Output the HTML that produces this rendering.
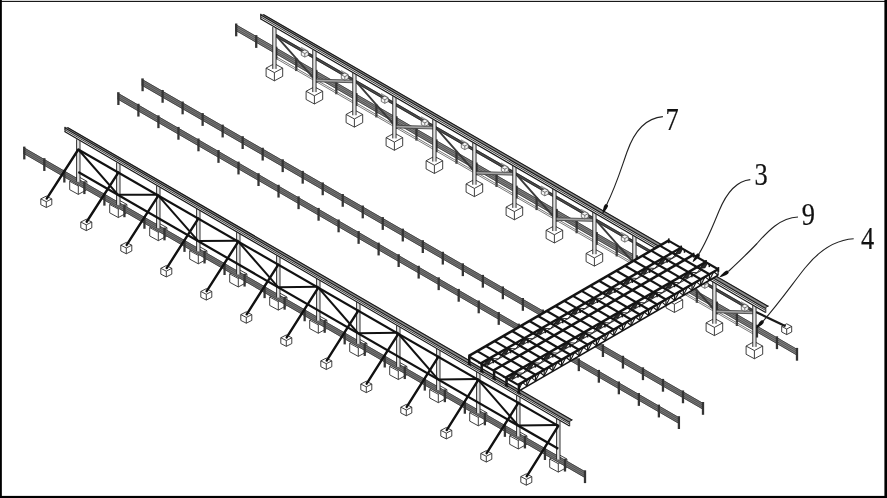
<!DOCTYPE html>
<html lang="en">
<head>
<meta charset="utf-8">
<title>Figure</title>
<style>
html,body{margin:0;padding:0;background:#fff;}
body{width:887px;height:498px;overflow:hidden;position:relative;font-family:"Liberation Serif",serif;}
#frame{position:absolute;left:0;top:0;filter:none;}
svg{position:absolute;left:0;top:0;}
#draw{filter:blur(0.4px);}
text{font-family:"Liberation Serif",serif;fill:#111;}
</style>
</head>
<body>
<svg id="draw" width="887" height="498" viewBox="0 0 887 498">
<polygon points="235.2,23.92 797,348.9 797,355.5 235.2,30.52" fill="#868686" stroke="none" stroke-width="1" stroke-linejoin="miter"/>
<line x1="235.2" y1="24.32" x2="797" y2="349.3" stroke="#3c3c3c" stroke-width="0.9"/>
<line x1="235.2" y1="26.22" x2="797" y2="351.2" stroke="#4a4a4a" stroke-width="0.8"/>
<line x1="235.2" y1="28.22" x2="797" y2="353.2" stroke="#4a4a4a" stroke-width="0.8"/>
<line x1="235.2" y1="30.12" x2="797" y2="355.1" stroke="#3c3c3c" stroke-width="0.9"/>
<line x1="236.2" y1="23.5" x2="236.2" y2="36.3" stroke="#343434" stroke-width="2.3"/>
<line x1="256.23" y1="35.09" x2="256.23" y2="47.89" stroke="#343434" stroke-width="2.3"/>
<line x1="276.26" y1="46.67" x2="276.26" y2="59.47" stroke="#343434" stroke-width="2.3"/>
<line x1="296.29" y1="58.26" x2="296.29" y2="71.06" stroke="#343434" stroke-width="2.3"/>
<line x1="316.31" y1="69.84" x2="316.31" y2="82.64" stroke="#343434" stroke-width="2.3"/>
<line x1="336.34" y1="81.43" x2="336.34" y2="94.23" stroke="#343434" stroke-width="2.3"/>
<line x1="356.37" y1="93.01" x2="356.37" y2="105.81" stroke="#343434" stroke-width="2.3"/>
<line x1="376.4" y1="104.6" x2="376.4" y2="117.4" stroke="#343434" stroke-width="2.3"/>
<line x1="396.43" y1="116.19" x2="396.43" y2="128.99" stroke="#343434" stroke-width="2.3"/>
<line x1="416.46" y1="127.77" x2="416.46" y2="140.57" stroke="#343434" stroke-width="2.3"/>
<line x1="436.49" y1="139.36" x2="436.49" y2="152.16" stroke="#343434" stroke-width="2.3"/>
<line x1="456.51" y1="150.94" x2="456.51" y2="163.74" stroke="#343434" stroke-width="2.3"/>
<line x1="476.54" y1="162.53" x2="476.54" y2="175.33" stroke="#343434" stroke-width="2.3"/>
<line x1="496.57" y1="174.11" x2="496.57" y2="186.91" stroke="#343434" stroke-width="2.3"/>
<line x1="516.6" y1="185.7" x2="516.6" y2="198.5" stroke="#343434" stroke-width="2.3"/>
<line x1="536.63" y1="197.29" x2="536.63" y2="210.09" stroke="#343434" stroke-width="2.3"/>
<line x1="556.66" y1="208.87" x2="556.66" y2="221.67" stroke="#343434" stroke-width="2.3"/>
<line x1="576.69" y1="220.46" x2="576.69" y2="233.26" stroke="#343434" stroke-width="2.3"/>
<line x1="596.71" y1="232.04" x2="596.71" y2="244.84" stroke="#343434" stroke-width="2.3"/>
<line x1="616.74" y1="243.63" x2="616.74" y2="256.43" stroke="#343434" stroke-width="2.3"/>
<line x1="636.77" y1="255.21" x2="636.77" y2="268.01" stroke="#343434" stroke-width="2.3"/>
<line x1="656.8" y1="266.8" x2="656.8" y2="279.6" stroke="#343434" stroke-width="2.3"/>
<line x1="676.83" y1="278.39" x2="676.83" y2="291.19" stroke="#343434" stroke-width="2.3"/>
<line x1="696.86" y1="289.97" x2="696.86" y2="302.77" stroke="#343434" stroke-width="2.3"/>
<line x1="716.89" y1="301.56" x2="716.89" y2="314.36" stroke="#343434" stroke-width="2.3"/>
<line x1="736.91" y1="313.14" x2="736.91" y2="325.94" stroke="#343434" stroke-width="2.3"/>
<line x1="756.94" y1="324.73" x2="756.94" y2="337.53" stroke="#343434" stroke-width="2.3"/>
<line x1="776.97" y1="336.31" x2="776.97" y2="349.11" stroke="#343434" stroke-width="2.3"/>
<line x1="797" y1="347.9" x2="797" y2="360.7" stroke="#343434" stroke-width="2.3"/>
<line x1="275.6" y1="35.22" x2="315.6" y2="58.31" stroke="#4c4c4c" stroke-width="2.8"/>
<line x1="275.6" y1="34.02" x2="315.6" y2="57.11" stroke="#222" stroke-width="0.8"/>
<line x1="275.6" y1="36.42" x2="315.6" y2="59.51" stroke="#222" stroke-width="0.8"/>
<line x1="275.6" y1="56.42" x2="315.6" y2="79.51" stroke="#555" stroke-width="0.8"/>
<line x1="275.6" y1="58.22" x2="315.6" y2="81.31" stroke="#555" stroke-width="0.8"/>
<line x1="275.6" y1="35.02" x2="315.6" y2="80.41" stroke="#3a3a3a" stroke-width="1.9"/>
<line x1="300.8" y1="47.49" x2="307.8" y2="51.49" stroke="#999" stroke-width="1.6"/>
<polygon points="301.3,51.69 304.8,49.89 308.3,51.69 308.3,55.29 304.8,57.09 301.3,55.29" fill="#f4f4f4" stroke="#444" stroke-width="0.7" stroke-linejoin="round"/>
<line x1="301.3" y1="51.69" x2="304.8" y2="53.49" stroke="#444" stroke-width="0.7"/>
<line x1="308.3" y1="51.69" x2="304.8" y2="53.49" stroke="#444" stroke-width="0.7"/>
<line x1="304.8" y1="53.49" x2="304.8" y2="57.09" stroke="#444" stroke-width="0.7"/>
<line x1="315.6" y1="58.31" x2="355.6" y2="81.41" stroke="#4c4c4c" stroke-width="2.8"/>
<line x1="315.6" y1="57.11" x2="355.6" y2="80.21" stroke="#222" stroke-width="0.8"/>
<line x1="315.6" y1="59.51" x2="355.6" y2="82.61" stroke="#222" stroke-width="0.8"/>
<line x1="315.6" y1="79.51" x2="355.6" y2="102.61" stroke="#555" stroke-width="0.8"/>
<line x1="315.6" y1="81.31" x2="355.6" y2="104.41" stroke="#555" stroke-width="0.8"/>
<line x1="315.6" y1="80.41" x2="355.6" y2="81.51" stroke="#a4a4a4" stroke-width="2.8"/>
<line x1="315.6" y1="79.11" x2="355.6" y2="80.21" stroke="#3a3a3a" stroke-width="0.8"/>
<line x1="315.6" y1="81.71" x2="355.6" y2="82.81" stroke="#3a3a3a" stroke-width="0.8"/>
<line x1="340.8" y1="70.62" x2="347.8" y2="74.62" stroke="#999" stroke-width="1.6"/>
<polygon points="341.3,74.82 344.8,73.02 348.3,74.82 348.3,78.42 344.8,80.22 341.3,78.42" fill="#f4f4f4" stroke="#444" stroke-width="0.7" stroke-linejoin="round"/>
<line x1="341.3" y1="74.82" x2="344.8" y2="76.62" stroke="#444" stroke-width="0.7"/>
<line x1="348.3" y1="74.82" x2="344.8" y2="76.62" stroke="#444" stroke-width="0.7"/>
<line x1="344.8" y1="76.62" x2="344.8" y2="80.22" stroke="#444" stroke-width="0.7"/>
<line x1="355.6" y1="81.41" x2="395.6" y2="104.51" stroke="#4c4c4c" stroke-width="2.8"/>
<line x1="355.6" y1="80.21" x2="395.6" y2="103.31" stroke="#222" stroke-width="0.8"/>
<line x1="355.6" y1="82.61" x2="395.6" y2="105.71" stroke="#222" stroke-width="0.8"/>
<line x1="355.6" y1="102.61" x2="395.6" y2="125.71" stroke="#555" stroke-width="0.8"/>
<line x1="355.6" y1="104.41" x2="395.6" y2="127.51" stroke="#555" stroke-width="0.8"/>
<line x1="355.6" y1="81.21" x2="395.6" y2="126.61" stroke="#3a3a3a" stroke-width="1.9"/>
<line x1="380.8" y1="93.74" x2="387.8" y2="97.74" stroke="#999" stroke-width="1.6"/>
<polygon points="381.3,97.94 384.8,96.14 388.3,97.94 388.3,101.54 384.8,103.34 381.3,101.54" fill="#f4f4f4" stroke="#444" stroke-width="0.7" stroke-linejoin="round"/>
<line x1="381.3" y1="97.94" x2="384.8" y2="99.74" stroke="#444" stroke-width="0.7"/>
<line x1="388.3" y1="97.94" x2="384.8" y2="99.74" stroke="#444" stroke-width="0.7"/>
<line x1="384.8" y1="99.74" x2="384.8" y2="103.34" stroke="#444" stroke-width="0.7"/>
<line x1="395.6" y1="104.51" x2="435.6" y2="127.61" stroke="#4c4c4c" stroke-width="2.8"/>
<line x1="395.6" y1="103.31" x2="435.6" y2="126.41" stroke="#222" stroke-width="0.8"/>
<line x1="395.6" y1="105.71" x2="435.6" y2="128.81" stroke="#222" stroke-width="0.8"/>
<line x1="395.6" y1="125.71" x2="435.6" y2="148.81" stroke="#555" stroke-width="0.8"/>
<line x1="395.6" y1="127.51" x2="435.6" y2="150.61" stroke="#555" stroke-width="0.8"/>
<line x1="395.6" y1="126.61" x2="435.6" y2="127.71" stroke="#a4a4a4" stroke-width="2.8"/>
<line x1="395.6" y1="125.31" x2="435.6" y2="126.41" stroke="#3a3a3a" stroke-width="0.8"/>
<line x1="395.6" y1="127.91" x2="435.6" y2="129.01" stroke="#3a3a3a" stroke-width="0.8"/>
<line x1="420.8" y1="116.86" x2="427.8" y2="120.86" stroke="#999" stroke-width="1.6"/>
<polygon points="421.3,121.06 424.8,119.26 428.3,121.06 428.3,124.66 424.8,126.46 421.3,124.66" fill="#f4f4f4" stroke="#444" stroke-width="0.7" stroke-linejoin="round"/>
<line x1="421.3" y1="121.06" x2="424.8" y2="122.86" stroke="#444" stroke-width="0.7"/>
<line x1="428.3" y1="121.06" x2="424.8" y2="122.86" stroke="#444" stroke-width="0.7"/>
<line x1="424.8" y1="122.86" x2="424.8" y2="126.46" stroke="#444" stroke-width="0.7"/>
<line x1="435.6" y1="127.61" x2="475.6" y2="150.71" stroke="#4c4c4c" stroke-width="2.8"/>
<line x1="435.6" y1="126.41" x2="475.6" y2="149.51" stroke="#222" stroke-width="0.8"/>
<line x1="435.6" y1="128.81" x2="475.6" y2="151.91" stroke="#222" stroke-width="0.8"/>
<line x1="435.6" y1="148.81" x2="475.6" y2="171.91" stroke="#555" stroke-width="0.8"/>
<line x1="435.6" y1="150.61" x2="475.6" y2="173.71" stroke="#555" stroke-width="0.8"/>
<line x1="435.6" y1="127.41" x2="475.6" y2="172.81" stroke="#3a3a3a" stroke-width="1.9"/>
<line x1="460.8" y1="139.99" x2="467.8" y2="143.99" stroke="#999" stroke-width="1.6"/>
<polygon points="461.3,144.19 464.8,142.39 468.3,144.19 468.3,147.79 464.8,149.59 461.3,147.79" fill="#f4f4f4" stroke="#444" stroke-width="0.7" stroke-linejoin="round"/>
<line x1="461.3" y1="144.19" x2="464.8" y2="145.99" stroke="#444" stroke-width="0.7"/>
<line x1="468.3" y1="144.19" x2="464.8" y2="145.99" stroke="#444" stroke-width="0.7"/>
<line x1="464.8" y1="145.99" x2="464.8" y2="149.59" stroke="#444" stroke-width="0.7"/>
<line x1="475.6" y1="150.71" x2="515.6" y2="173.8" stroke="#4c4c4c" stroke-width="2.8"/>
<line x1="475.6" y1="149.51" x2="515.6" y2="172.6" stroke="#222" stroke-width="0.8"/>
<line x1="475.6" y1="151.91" x2="515.6" y2="175" stroke="#222" stroke-width="0.8"/>
<line x1="475.6" y1="171.91" x2="515.6" y2="195" stroke="#555" stroke-width="0.8"/>
<line x1="475.6" y1="173.71" x2="515.6" y2="196.8" stroke="#555" stroke-width="0.8"/>
<line x1="475.6" y1="172.81" x2="515.6" y2="173.9" stroke="#a4a4a4" stroke-width="2.8"/>
<line x1="475.6" y1="171.51" x2="515.6" y2="172.6" stroke="#3a3a3a" stroke-width="0.8"/>
<line x1="475.6" y1="174.11" x2="515.6" y2="175.2" stroke="#3a3a3a" stroke-width="0.8"/>
<line x1="500.8" y1="163.11" x2="507.8" y2="167.11" stroke="#999" stroke-width="1.6"/>
<polygon points="501.3,167.31 504.8,165.51 508.3,167.31 508.3,170.91 504.8,172.71 501.3,170.91" fill="#f4f4f4" stroke="#444" stroke-width="0.7" stroke-linejoin="round"/>
<line x1="501.3" y1="167.31" x2="504.8" y2="169.11" stroke="#444" stroke-width="0.7"/>
<line x1="508.3" y1="167.31" x2="504.8" y2="169.11" stroke="#444" stroke-width="0.7"/>
<line x1="504.8" y1="169.11" x2="504.8" y2="172.71" stroke="#444" stroke-width="0.7"/>
<line x1="515.6" y1="173.8" x2="555.6" y2="196.9" stroke="#4c4c4c" stroke-width="2.8"/>
<line x1="515.6" y1="172.6" x2="555.6" y2="195.7" stroke="#222" stroke-width="0.8"/>
<line x1="515.6" y1="175" x2="555.6" y2="198.1" stroke="#222" stroke-width="0.8"/>
<line x1="515.6" y1="195" x2="555.6" y2="218.1" stroke="#555" stroke-width="0.8"/>
<line x1="515.6" y1="196.8" x2="555.6" y2="219.9" stroke="#555" stroke-width="0.8"/>
<line x1="515.6" y1="173.6" x2="555.6" y2="219" stroke="#3a3a3a" stroke-width="1.9"/>
<line x1="540.8" y1="186.24" x2="547.8" y2="190.24" stroke="#999" stroke-width="1.6"/>
<polygon points="541.3,190.44 544.8,188.64 548.3,190.44 548.3,194.04 544.8,195.84 541.3,194.04" fill="#f4f4f4" stroke="#444" stroke-width="0.7" stroke-linejoin="round"/>
<line x1="541.3" y1="190.44" x2="544.8" y2="192.24" stroke="#444" stroke-width="0.7"/>
<line x1="548.3" y1="190.44" x2="544.8" y2="192.24" stroke="#444" stroke-width="0.7"/>
<line x1="544.8" y1="192.24" x2="544.8" y2="195.84" stroke="#444" stroke-width="0.7"/>
<line x1="555.6" y1="196.9" x2="595.6" y2="220" stroke="#4c4c4c" stroke-width="2.8"/>
<line x1="555.6" y1="195.7" x2="595.6" y2="218.8" stroke="#222" stroke-width="0.8"/>
<line x1="555.6" y1="198.1" x2="595.6" y2="221.2" stroke="#222" stroke-width="0.8"/>
<line x1="555.6" y1="218.1" x2="595.6" y2="241.2" stroke="#555" stroke-width="0.8"/>
<line x1="555.6" y1="219.9" x2="595.6" y2="243" stroke="#555" stroke-width="0.8"/>
<line x1="555.6" y1="219" x2="595.6" y2="220.1" stroke="#a4a4a4" stroke-width="2.8"/>
<line x1="555.6" y1="217.7" x2="595.6" y2="218.8" stroke="#3a3a3a" stroke-width="0.8"/>
<line x1="555.6" y1="220.3" x2="595.6" y2="221.4" stroke="#3a3a3a" stroke-width="0.8"/>
<line x1="580.8" y1="209.36" x2="587.8" y2="213.36" stroke="#999" stroke-width="1.6"/>
<polygon points="581.3,213.56 584.8,211.76 588.3,213.56 588.3,217.16 584.8,218.96 581.3,217.16" fill="#f4f4f4" stroke="#444" stroke-width="0.7" stroke-linejoin="round"/>
<line x1="581.3" y1="213.56" x2="584.8" y2="215.36" stroke="#444" stroke-width="0.7"/>
<line x1="588.3" y1="213.56" x2="584.8" y2="215.36" stroke="#444" stroke-width="0.7"/>
<line x1="584.8" y1="215.36" x2="584.8" y2="218.96" stroke="#444" stroke-width="0.7"/>
<line x1="595.6" y1="220" x2="635.6" y2="243.1" stroke="#4c4c4c" stroke-width="2.8"/>
<line x1="595.6" y1="218.8" x2="635.6" y2="241.9" stroke="#222" stroke-width="0.8"/>
<line x1="595.6" y1="221.2" x2="635.6" y2="244.3" stroke="#222" stroke-width="0.8"/>
<line x1="595.6" y1="241.2" x2="635.6" y2="264.3" stroke="#555" stroke-width="0.8"/>
<line x1="595.6" y1="243" x2="635.6" y2="266.1" stroke="#555" stroke-width="0.8"/>
<line x1="595.6" y1="219.8" x2="635.6" y2="265.2" stroke="#3a3a3a" stroke-width="1.9"/>
<line x1="620.8" y1="232.48" x2="627.8" y2="236.48" stroke="#999" stroke-width="1.6"/>
<polygon points="621.3,236.68 624.8,234.88 628.3,236.68 628.3,240.28 624.8,242.08 621.3,240.28" fill="#f4f4f4" stroke="#444" stroke-width="0.7" stroke-linejoin="round"/>
<line x1="621.3" y1="236.68" x2="624.8" y2="238.48" stroke="#444" stroke-width="0.7"/>
<line x1="628.3" y1="236.68" x2="624.8" y2="238.48" stroke="#444" stroke-width="0.7"/>
<line x1="624.8" y1="238.48" x2="624.8" y2="242.08" stroke="#444" stroke-width="0.7"/>
<line x1="635.6" y1="243.1" x2="675.6" y2="266.2" stroke="#4c4c4c" stroke-width="2.8"/>
<line x1="635.6" y1="241.9" x2="675.6" y2="265" stroke="#222" stroke-width="0.8"/>
<line x1="635.6" y1="244.3" x2="675.6" y2="267.4" stroke="#222" stroke-width="0.8"/>
<line x1="635.6" y1="264.3" x2="675.6" y2="287.4" stroke="#555" stroke-width="0.8"/>
<line x1="635.6" y1="266.1" x2="675.6" y2="289.2" stroke="#555" stroke-width="0.8"/>
<line x1="635.6" y1="265.2" x2="675.6" y2="266.3" stroke="#a4a4a4" stroke-width="2.8"/>
<line x1="635.6" y1="263.9" x2="675.6" y2="265" stroke="#3a3a3a" stroke-width="0.8"/>
<line x1="635.6" y1="266.5" x2="675.6" y2="267.6" stroke="#3a3a3a" stroke-width="0.8"/>
<line x1="660.8" y1="255.61" x2="667.8" y2="259.61" stroke="#999" stroke-width="1.6"/>
<polygon points="661.3,259.81 664.8,258.01 668.3,259.81 668.3,263.41 664.8,265.21 661.3,263.41" fill="#f4f4f4" stroke="#444" stroke-width="0.7" stroke-linejoin="round"/>
<line x1="661.3" y1="259.81" x2="664.8" y2="261.61" stroke="#444" stroke-width="0.7"/>
<line x1="668.3" y1="259.81" x2="664.8" y2="261.61" stroke="#444" stroke-width="0.7"/>
<line x1="664.8" y1="261.61" x2="664.8" y2="265.21" stroke="#444" stroke-width="0.7"/>
<line x1="675.6" y1="266.2" x2="715.6" y2="289.3" stroke="#4c4c4c" stroke-width="2.8"/>
<line x1="675.6" y1="265" x2="715.6" y2="288.1" stroke="#222" stroke-width="0.8"/>
<line x1="675.6" y1="267.4" x2="715.6" y2="290.5" stroke="#222" stroke-width="0.8"/>
<line x1="675.6" y1="287.4" x2="715.6" y2="310.5" stroke="#555" stroke-width="0.8"/>
<line x1="675.6" y1="289.2" x2="715.6" y2="312.3" stroke="#555" stroke-width="0.8"/>
<line x1="675.6" y1="266" x2="715.6" y2="311.4" stroke="#3a3a3a" stroke-width="1.9"/>
<line x1="700.8" y1="278.73" x2="707.8" y2="282.73" stroke="#999" stroke-width="1.6"/>
<polygon points="701.3,282.93 704.8,281.13 708.3,282.93 708.3,286.53 704.8,288.33 701.3,286.53" fill="#f4f4f4" stroke="#444" stroke-width="0.7" stroke-linejoin="round"/>
<line x1="701.3" y1="282.93" x2="704.8" y2="284.73" stroke="#444" stroke-width="0.7"/>
<line x1="708.3" y1="282.93" x2="704.8" y2="284.73" stroke="#444" stroke-width="0.7"/>
<line x1="704.8" y1="284.73" x2="704.8" y2="288.33" stroke="#444" stroke-width="0.7"/>
<line x1="715.6" y1="289.3" x2="755.6" y2="312.39" stroke="#4c4c4c" stroke-width="2.8"/>
<line x1="715.6" y1="288.1" x2="755.6" y2="311.19" stroke="#222" stroke-width="0.8"/>
<line x1="715.6" y1="290.5" x2="755.6" y2="313.59" stroke="#222" stroke-width="0.8"/>
<line x1="715.6" y1="310.5" x2="755.6" y2="333.59" stroke="#555" stroke-width="0.8"/>
<line x1="715.6" y1="312.3" x2="755.6" y2="335.39" stroke="#555" stroke-width="0.8"/>
<line x1="715.6" y1="311.4" x2="755.6" y2="312.49" stroke="#a4a4a4" stroke-width="2.8"/>
<line x1="715.6" y1="310.1" x2="755.6" y2="311.19" stroke="#3a3a3a" stroke-width="0.8"/>
<line x1="715.6" y1="312.7" x2="755.6" y2="313.79" stroke="#3a3a3a" stroke-width="0.8"/>
<line x1="740.8" y1="301.86" x2="747.8" y2="305.86" stroke="#999" stroke-width="1.6"/>
<polygon points="741.3,306.06 744.8,304.26 748.3,306.06 748.3,309.66 744.8,311.46 741.3,309.66" fill="#f4f4f4" stroke="#444" stroke-width="0.7" stroke-linejoin="round"/>
<line x1="741.3" y1="306.06" x2="744.8" y2="307.86" stroke="#444" stroke-width="0.7"/>
<line x1="748.3" y1="306.06" x2="744.8" y2="307.86" stroke="#444" stroke-width="0.7"/>
<line x1="744.8" y1="307.86" x2="744.8" y2="311.46" stroke="#444" stroke-width="0.7"/>
<polygon points="781.7,326.4 786.7,323.8 791.7,326.4 791.7,332 786.7,334.6 781.7,332" fill="#fff" stroke="#2a2a2a" stroke-width="0.9" stroke-linejoin="round"/>
<line x1="781.7" y1="326.4" x2="786.7" y2="329" stroke="#2a2a2a" stroke-width="0.9"/>
<line x1="791.7" y1="326.4" x2="786.7" y2="329" stroke="#2a2a2a" stroke-width="0.9"/>
<line x1="786.7" y1="329" x2="786.7" y2="334.6" stroke="#2a2a2a" stroke-width="0.9"/>
<line x1="756" y1="312" x2="785.6" y2="326.2" stroke="#1a1a1a" stroke-width="2.2"/>
<polygon points="266.1,68.12 274.4,63.62 282.7,68.12 282.7,76.32 274.4,80.82 266.1,76.32" fill="#fff" stroke="#2a2a2a" stroke-width="0.9" stroke-linejoin="round"/>
<line x1="266.1" y1="68.12" x2="274.4" y2="72.62" stroke="#2a2a2a" stroke-width="0.9"/>
<line x1="282.7" y1="68.12" x2="274.4" y2="72.62" stroke="#2a2a2a" stroke-width="0.9"/>
<line x1="274.4" y1="72.62" x2="274.4" y2="80.82" stroke="#2a2a2a" stroke-width="0.9"/>
<polygon points="272.75,26.82 276.05,26.82 276.05,68.92 272.75,68.92" fill="#e2e2e2" stroke="none" stroke-width="1" stroke-linejoin="miter"/>
<line x1="272.75" y1="26.82" x2="272.75" y2="68.92" stroke="#1c1c1c" stroke-width="0.9"/>
<line x1="276.05" y1="26.82" x2="276.05" y2="68.92" stroke="#1c1c1c" stroke-width="0.9"/>
<polygon points="306.1,91.28 314.4,86.78 322.7,91.28 322.7,99.48 314.4,103.98 306.1,99.48" fill="#fff" stroke="#2a2a2a" stroke-width="0.9" stroke-linejoin="round"/>
<line x1="306.1" y1="91.28" x2="314.4" y2="95.78" stroke="#2a2a2a" stroke-width="0.9"/>
<line x1="322.7" y1="91.28" x2="314.4" y2="95.78" stroke="#2a2a2a" stroke-width="0.9"/>
<line x1="314.4" y1="95.78" x2="314.4" y2="103.98" stroke="#2a2a2a" stroke-width="0.9"/>
<polygon points="312.75,49.94 316.05,49.94 316.05,92.08 312.75,92.08" fill="#e2e2e2" stroke="none" stroke-width="1" stroke-linejoin="miter"/>
<line x1="312.75" y1="49.94" x2="312.75" y2="92.08" stroke="#1c1c1c" stroke-width="0.9"/>
<line x1="316.05" y1="49.94" x2="316.05" y2="92.08" stroke="#1c1c1c" stroke-width="0.9"/>
<polygon points="346.1,114.44 354.4,109.94 362.7,114.44 362.7,122.64 354.4,127.14 346.1,122.64" fill="#fff" stroke="#2a2a2a" stroke-width="0.9" stroke-linejoin="round"/>
<line x1="346.1" y1="114.44" x2="354.4" y2="118.94" stroke="#2a2a2a" stroke-width="0.9"/>
<line x1="362.7" y1="114.44" x2="354.4" y2="118.94" stroke="#2a2a2a" stroke-width="0.9"/>
<line x1="354.4" y1="118.94" x2="354.4" y2="127.14" stroke="#2a2a2a" stroke-width="0.9"/>
<polygon points="352.75,73.07 356.05,73.07 356.05,115.24 352.75,115.24" fill="#e2e2e2" stroke="none" stroke-width="1" stroke-linejoin="miter"/>
<line x1="352.75" y1="73.07" x2="352.75" y2="115.24" stroke="#1c1c1c" stroke-width="0.9"/>
<line x1="356.05" y1="73.07" x2="356.05" y2="115.24" stroke="#1c1c1c" stroke-width="0.9"/>
<polygon points="386.1,137.6 394.4,133.1 402.7,137.6 402.7,145.8 394.4,150.3 386.1,145.8" fill="#fff" stroke="#2a2a2a" stroke-width="0.9" stroke-linejoin="round"/>
<line x1="386.1" y1="137.6" x2="394.4" y2="142.1" stroke="#2a2a2a" stroke-width="0.9"/>
<line x1="402.7" y1="137.6" x2="394.4" y2="142.1" stroke="#2a2a2a" stroke-width="0.9"/>
<line x1="394.4" y1="142.1" x2="394.4" y2="150.3" stroke="#2a2a2a" stroke-width="0.9"/>
<polygon points="392.75,96.19 396.05,96.19 396.05,138.4 392.75,138.4" fill="#e2e2e2" stroke="none" stroke-width="1" stroke-linejoin="miter"/>
<line x1="392.75" y1="96.19" x2="392.75" y2="138.4" stroke="#1c1c1c" stroke-width="0.9"/>
<line x1="396.05" y1="96.19" x2="396.05" y2="138.4" stroke="#1c1c1c" stroke-width="0.9"/>
<polygon points="426.1,160.76 434.4,156.26 442.7,160.76 442.7,168.96 434.4,173.46 426.1,168.96" fill="#fff" stroke="#2a2a2a" stroke-width="0.9" stroke-linejoin="round"/>
<line x1="426.1" y1="160.76" x2="434.4" y2="165.26" stroke="#2a2a2a" stroke-width="0.9"/>
<line x1="442.7" y1="160.76" x2="434.4" y2="165.26" stroke="#2a2a2a" stroke-width="0.9"/>
<line x1="434.4" y1="165.26" x2="434.4" y2="173.46" stroke="#2a2a2a" stroke-width="0.9"/>
<polygon points="432.75,119.31 436.05,119.31 436.05,161.56 432.75,161.56" fill="#e2e2e2" stroke="none" stroke-width="1" stroke-linejoin="miter"/>
<line x1="432.75" y1="119.31" x2="432.75" y2="161.56" stroke="#1c1c1c" stroke-width="0.9"/>
<line x1="436.05" y1="119.31" x2="436.05" y2="161.56" stroke="#1c1c1c" stroke-width="0.9"/>
<polygon points="466.1,183.93 474.4,179.43 482.7,183.93 482.7,192.13 474.4,196.63 466.1,192.13" fill="#fff" stroke="#2a2a2a" stroke-width="0.9" stroke-linejoin="round"/>
<line x1="466.1" y1="183.93" x2="474.4" y2="188.43" stroke="#2a2a2a" stroke-width="0.9"/>
<line x1="482.7" y1="183.93" x2="474.4" y2="188.43" stroke="#2a2a2a" stroke-width="0.9"/>
<line x1="474.4" y1="188.43" x2="474.4" y2="196.63" stroke="#2a2a2a" stroke-width="0.9"/>
<polygon points="472.75,142.44 476.05,142.44 476.05,184.73 472.75,184.73" fill="#e2e2e2" stroke="none" stroke-width="1" stroke-linejoin="miter"/>
<line x1="472.75" y1="142.44" x2="472.75" y2="184.73" stroke="#1c1c1c" stroke-width="0.9"/>
<line x1="476.05" y1="142.44" x2="476.05" y2="184.73" stroke="#1c1c1c" stroke-width="0.9"/>
<polygon points="506.1,207.09 514.4,202.59 522.7,207.09 522.7,215.29 514.4,219.79 506.1,215.29" fill="#fff" stroke="#2a2a2a" stroke-width="0.9" stroke-linejoin="round"/>
<line x1="506.1" y1="207.09" x2="514.4" y2="211.59" stroke="#2a2a2a" stroke-width="0.9"/>
<line x1="522.7" y1="207.09" x2="514.4" y2="211.59" stroke="#2a2a2a" stroke-width="0.9"/>
<line x1="514.4" y1="211.59" x2="514.4" y2="219.79" stroke="#2a2a2a" stroke-width="0.9"/>
<polygon points="512.75,165.56 516.05,165.56 516.05,207.89 512.75,207.89" fill="#e2e2e2" stroke="none" stroke-width="1" stroke-linejoin="miter"/>
<line x1="512.75" y1="165.56" x2="512.75" y2="207.89" stroke="#1c1c1c" stroke-width="0.9"/>
<line x1="516.05" y1="165.56" x2="516.05" y2="207.89" stroke="#1c1c1c" stroke-width="0.9"/>
<polygon points="546.1,230.25 554.4,225.75 562.7,230.25 562.7,238.45 554.4,242.95 546.1,238.45" fill="#fff" stroke="#2a2a2a" stroke-width="0.9" stroke-linejoin="round"/>
<line x1="546.1" y1="230.25" x2="554.4" y2="234.75" stroke="#2a2a2a" stroke-width="0.9"/>
<line x1="562.7" y1="230.25" x2="554.4" y2="234.75" stroke="#2a2a2a" stroke-width="0.9"/>
<line x1="554.4" y1="234.75" x2="554.4" y2="242.95" stroke="#2a2a2a" stroke-width="0.9"/>
<polygon points="552.75,188.69 556.05,188.69 556.05,231.05 552.75,231.05" fill="#e2e2e2" stroke="none" stroke-width="1" stroke-linejoin="miter"/>
<line x1="552.75" y1="188.69" x2="552.75" y2="231.05" stroke="#1c1c1c" stroke-width="0.9"/>
<line x1="556.05" y1="188.69" x2="556.05" y2="231.05" stroke="#1c1c1c" stroke-width="0.9"/>
<polygon points="586.1,253.41 594.4,248.91 602.7,253.41 602.7,261.61 594.4,266.11 586.1,261.61" fill="#fff" stroke="#2a2a2a" stroke-width="0.9" stroke-linejoin="round"/>
<line x1="586.1" y1="253.41" x2="594.4" y2="257.91" stroke="#2a2a2a" stroke-width="0.9"/>
<line x1="602.7" y1="253.41" x2="594.4" y2="257.91" stroke="#2a2a2a" stroke-width="0.9"/>
<line x1="594.4" y1="257.91" x2="594.4" y2="266.11" stroke="#2a2a2a" stroke-width="0.9"/>
<polygon points="592.75,211.81 596.05,211.81 596.05,254.21 592.75,254.21" fill="#e2e2e2" stroke="none" stroke-width="1" stroke-linejoin="miter"/>
<line x1="592.75" y1="211.81" x2="592.75" y2="254.21" stroke="#1c1c1c" stroke-width="0.9"/>
<line x1="596.05" y1="211.81" x2="596.05" y2="254.21" stroke="#1c1c1c" stroke-width="0.9"/>
<polygon points="626.1,276.58 634.4,272.08 642.7,276.58 642.7,284.78 634.4,289.28 626.1,284.78" fill="#fff" stroke="#2a2a2a" stroke-width="0.9" stroke-linejoin="round"/>
<line x1="626.1" y1="276.58" x2="634.4" y2="281.08" stroke="#2a2a2a" stroke-width="0.9"/>
<line x1="642.7" y1="276.58" x2="634.4" y2="281.08" stroke="#2a2a2a" stroke-width="0.9"/>
<line x1="634.4" y1="281.08" x2="634.4" y2="289.28" stroke="#2a2a2a" stroke-width="0.9"/>
<polygon points="632.75,234.93 636.05,234.93 636.05,277.38 632.75,277.38" fill="#e2e2e2" stroke="none" stroke-width="1" stroke-linejoin="miter"/>
<line x1="632.75" y1="234.93" x2="632.75" y2="277.38" stroke="#1c1c1c" stroke-width="0.9"/>
<line x1="636.05" y1="234.93" x2="636.05" y2="277.38" stroke="#1c1c1c" stroke-width="0.9"/>
<polygon points="666.1,299.74 674.4,295.24 682.7,299.74 682.7,307.94 674.4,312.44 666.1,307.94" fill="#fff" stroke="#2a2a2a" stroke-width="0.9" stroke-linejoin="round"/>
<line x1="666.1" y1="299.74" x2="674.4" y2="304.24" stroke="#2a2a2a" stroke-width="0.9"/>
<line x1="682.7" y1="299.74" x2="674.4" y2="304.24" stroke="#2a2a2a" stroke-width="0.9"/>
<line x1="674.4" y1="304.24" x2="674.4" y2="312.44" stroke="#2a2a2a" stroke-width="0.9"/>
<polygon points="672.75,258.06 676.05,258.06 676.05,300.54 672.75,300.54" fill="#e2e2e2" stroke="none" stroke-width="1" stroke-linejoin="miter"/>
<line x1="672.75" y1="258.06" x2="672.75" y2="300.54" stroke="#1c1c1c" stroke-width="0.9"/>
<line x1="676.05" y1="258.06" x2="676.05" y2="300.54" stroke="#1c1c1c" stroke-width="0.9"/>
<polygon points="706.1,322.9 714.4,318.4 722.7,322.9 722.7,331.1 714.4,335.6 706.1,331.1" fill="#fff" stroke="#2a2a2a" stroke-width="0.9" stroke-linejoin="round"/>
<line x1="706.1" y1="322.9" x2="714.4" y2="327.4" stroke="#2a2a2a" stroke-width="0.9"/>
<line x1="722.7" y1="322.9" x2="714.4" y2="327.4" stroke="#2a2a2a" stroke-width="0.9"/>
<line x1="714.4" y1="327.4" x2="714.4" y2="335.6" stroke="#2a2a2a" stroke-width="0.9"/>
<polygon points="712.75,281.18 716.05,281.18 716.05,323.7 712.75,323.7" fill="#e2e2e2" stroke="none" stroke-width="1" stroke-linejoin="miter"/>
<line x1="712.75" y1="281.18" x2="712.75" y2="323.7" stroke="#1c1c1c" stroke-width="0.9"/>
<line x1="716.05" y1="281.18" x2="716.05" y2="323.7" stroke="#1c1c1c" stroke-width="0.9"/>
<polygon points="746.1,346.06 754.4,341.56 762.7,346.06 762.7,354.26 754.4,358.76 746.1,354.26" fill="#fff" stroke="#2a2a2a" stroke-width="0.9" stroke-linejoin="round"/>
<line x1="746.1" y1="346.06" x2="754.4" y2="350.56" stroke="#2a2a2a" stroke-width="0.9"/>
<line x1="762.7" y1="346.06" x2="754.4" y2="350.56" stroke="#2a2a2a" stroke-width="0.9"/>
<line x1="754.4" y1="350.56" x2="754.4" y2="358.76" stroke="#2a2a2a" stroke-width="0.9"/>
<polygon points="752.75,304.31 756.05,304.31 756.05,346.86 752.75,346.86" fill="#e2e2e2" stroke="none" stroke-width="1" stroke-linejoin="miter"/>
<line x1="752.75" y1="304.31" x2="752.75" y2="346.86" stroke="#1c1c1c" stroke-width="0.9"/>
<line x1="756.05" y1="304.31" x2="756.05" y2="346.86" stroke="#1c1c1c" stroke-width="0.9"/>
<polygon points="260.4,13.82 263.3,13.9 768.4,305.9 765.6,307.6 765.6,312.7 260.4,19.22" fill="#fff" stroke="none" stroke-width="1" stroke-linejoin="miter"/>
<polygon points="260.4,13.92 263.3,13.9 768.4,305.9 765.6,307.6 765.6,308.4 260.4,14.72" fill="#8a8a8a" stroke="none" stroke-width="1" stroke-linejoin="miter"/>
<polygon points="260.4,14.72 765.6,308.4 765.6,310.4 260.4,16.72" fill="#d4d4d4" stroke="none" stroke-width="1" stroke-linejoin="miter"/>
<line x1="263.3" y1="14.4" x2="768.4" y2="306.4" stroke="#161616" stroke-width="1.1"/>
<line x1="260.4" y1="14.72" x2="765.6" y2="308.4" stroke="#161616" stroke-width="1.1"/>
<line x1="260.4" y1="16.72" x2="765.6" y2="310.4" stroke="#2a2a2a" stroke-width="0.9"/>
<line x1="260.4" y1="18.72" x2="765.6" y2="312.4" stroke="#161616" stroke-width="1.2"/>
<line x1="260.8" y1="13.72" x2="260.8" y2="19.22" stroke="#161616" stroke-width="1"/>
<line x1="765.8" y1="307.6" x2="765.8" y2="312.7" stroke="#161616" stroke-width="0.9"/>
<line x1="768.4" y1="305.9" x2="765.6" y2="307.6" stroke="#161616" stroke-width="0.9"/>
<polygon points="141.6,78.82 703,403 703,409.6 141.6,85.42" fill="#787878" stroke="none" stroke-width="1" stroke-linejoin="miter"/>
<line x1="141.6" y1="79.22" x2="703" y2="403.4" stroke="#3c3c3c" stroke-width="0.9"/>
<line x1="141.6" y1="81.12" x2="703" y2="405.3" stroke="#4a4a4a" stroke-width="0.8"/>
<line x1="141.6" y1="83.12" x2="703" y2="407.3" stroke="#4a4a4a" stroke-width="0.8"/>
<line x1="141.6" y1="85.02" x2="703" y2="409.2" stroke="#3c3c3c" stroke-width="0.9"/>
<line x1="142.6" y1="78.4" x2="142.6" y2="91.2" stroke="#343434" stroke-width="2.3"/>
<line x1="162.61" y1="89.96" x2="162.61" y2="102.76" stroke="#343434" stroke-width="2.3"/>
<line x1="182.63" y1="101.51" x2="182.63" y2="114.31" stroke="#343434" stroke-width="2.3"/>
<line x1="202.64" y1="113.07" x2="202.64" y2="125.87" stroke="#343434" stroke-width="2.3"/>
<line x1="222.66" y1="124.63" x2="222.66" y2="137.43" stroke="#343434" stroke-width="2.3"/>
<line x1="242.67" y1="136.19" x2="242.67" y2="148.99" stroke="#343434" stroke-width="2.3"/>
<line x1="262.69" y1="147.74" x2="262.69" y2="160.54" stroke="#343434" stroke-width="2.3"/>
<line x1="282.7" y1="159.3" x2="282.7" y2="172.1" stroke="#343434" stroke-width="2.3"/>
<line x1="302.71" y1="170.86" x2="302.71" y2="183.66" stroke="#343434" stroke-width="2.3"/>
<line x1="322.73" y1="182.41" x2="322.73" y2="195.21" stroke="#343434" stroke-width="2.3"/>
<line x1="342.74" y1="193.97" x2="342.74" y2="206.77" stroke="#343434" stroke-width="2.3"/>
<line x1="362.76" y1="205.53" x2="362.76" y2="218.33" stroke="#343434" stroke-width="2.3"/>
<line x1="382.77" y1="217.09" x2="382.77" y2="229.89" stroke="#343434" stroke-width="2.3"/>
<line x1="402.79" y1="228.64" x2="402.79" y2="241.44" stroke="#343434" stroke-width="2.3"/>
<line x1="422.8" y1="240.2" x2="422.8" y2="253" stroke="#343434" stroke-width="2.3"/>
<line x1="442.81" y1="251.76" x2="442.81" y2="264.56" stroke="#343434" stroke-width="2.3"/>
<line x1="462.83" y1="263.31" x2="462.83" y2="276.11" stroke="#343434" stroke-width="2.3"/>
<line x1="482.84" y1="274.87" x2="482.84" y2="287.67" stroke="#343434" stroke-width="2.3"/>
<line x1="502.86" y1="286.43" x2="502.86" y2="299.23" stroke="#343434" stroke-width="2.3"/>
<line x1="522.87" y1="297.99" x2="522.87" y2="310.79" stroke="#343434" stroke-width="2.3"/>
<line x1="542.89" y1="309.54" x2="542.89" y2="322.34" stroke="#343434" stroke-width="2.3"/>
<line x1="562.9" y1="321.1" x2="562.9" y2="333.9" stroke="#343434" stroke-width="2.3"/>
<line x1="582.91" y1="332.66" x2="582.91" y2="345.46" stroke="#343434" stroke-width="2.3"/>
<line x1="602.93" y1="344.21" x2="602.93" y2="357.01" stroke="#343434" stroke-width="2.3"/>
<line x1="622.94" y1="355.77" x2="622.94" y2="368.57" stroke="#343434" stroke-width="2.3"/>
<line x1="642.96" y1="367.33" x2="642.96" y2="380.13" stroke="#343434" stroke-width="2.3"/>
<line x1="662.97" y1="378.89" x2="662.97" y2="391.69" stroke="#343434" stroke-width="2.3"/>
<line x1="682.99" y1="390.44" x2="682.99" y2="403.24" stroke="#343434" stroke-width="2.3"/>
<line x1="703" y1="402" x2="703" y2="414.8" stroke="#343434" stroke-width="2.3"/>
<polygon points="117.4,92.62 678.9,417.2 678.9,423.8 117.4,99.22" fill="#787878" stroke="none" stroke-width="1" stroke-linejoin="miter"/>
<line x1="117.4" y1="93.02" x2="678.9" y2="417.6" stroke="#3c3c3c" stroke-width="0.9"/>
<line x1="117.4" y1="94.92" x2="678.9" y2="419.5" stroke="#4a4a4a" stroke-width="0.8"/>
<line x1="117.4" y1="96.92" x2="678.9" y2="421.5" stroke="#4a4a4a" stroke-width="0.8"/>
<line x1="117.4" y1="98.82" x2="678.9" y2="423.4" stroke="#3c3c3c" stroke-width="0.9"/>
<line x1="118.4" y1="92.2" x2="118.4" y2="105" stroke="#343434" stroke-width="2.3"/>
<line x1="138.42" y1="103.77" x2="138.42" y2="116.57" stroke="#343434" stroke-width="2.3"/>
<line x1="158.44" y1="115.34" x2="158.44" y2="128.14" stroke="#343434" stroke-width="2.3"/>
<line x1="178.45" y1="126.91" x2="178.45" y2="139.71" stroke="#343434" stroke-width="2.3"/>
<line x1="198.47" y1="138.49" x2="198.47" y2="151.29" stroke="#343434" stroke-width="2.3"/>
<line x1="218.49" y1="150.06" x2="218.49" y2="162.86" stroke="#343434" stroke-width="2.3"/>
<line x1="238.51" y1="161.63" x2="238.51" y2="174.43" stroke="#343434" stroke-width="2.3"/>
<line x1="258.52" y1="173.2" x2="258.52" y2="186" stroke="#343434" stroke-width="2.3"/>
<line x1="278.54" y1="184.77" x2="278.54" y2="197.57" stroke="#343434" stroke-width="2.3"/>
<line x1="298.56" y1="196.34" x2="298.56" y2="209.14" stroke="#343434" stroke-width="2.3"/>
<line x1="318.58" y1="207.91" x2="318.58" y2="220.71" stroke="#343434" stroke-width="2.3"/>
<line x1="338.6" y1="219.49" x2="338.6" y2="232.29" stroke="#343434" stroke-width="2.3"/>
<line x1="358.61" y1="231.06" x2="358.61" y2="243.86" stroke="#343434" stroke-width="2.3"/>
<line x1="378.63" y1="242.63" x2="378.63" y2="255.43" stroke="#343434" stroke-width="2.3"/>
<line x1="398.65" y1="254.2" x2="398.65" y2="267" stroke="#343434" stroke-width="2.3"/>
<line x1="418.67" y1="265.77" x2="418.67" y2="278.57" stroke="#343434" stroke-width="2.3"/>
<line x1="438.69" y1="277.34" x2="438.69" y2="290.14" stroke="#343434" stroke-width="2.3"/>
<line x1="458.7" y1="288.91" x2="458.7" y2="301.71" stroke="#343434" stroke-width="2.3"/>
<line x1="478.72" y1="300.49" x2="478.72" y2="313.29" stroke="#343434" stroke-width="2.3"/>
<line x1="498.74" y1="312.06" x2="498.74" y2="324.86" stroke="#343434" stroke-width="2.3"/>
<line x1="518.76" y1="323.63" x2="518.76" y2="336.43" stroke="#343434" stroke-width="2.3"/>
<line x1="538.77" y1="335.2" x2="538.77" y2="348" stroke="#343434" stroke-width="2.3"/>
<line x1="558.79" y1="346.77" x2="558.79" y2="359.57" stroke="#343434" stroke-width="2.3"/>
<line x1="578.81" y1="358.34" x2="578.81" y2="371.14" stroke="#343434" stroke-width="2.3"/>
<line x1="598.83" y1="369.91" x2="598.83" y2="382.71" stroke="#343434" stroke-width="2.3"/>
<line x1="618.85" y1="381.49" x2="618.85" y2="394.29" stroke="#343434" stroke-width="2.3"/>
<line x1="638.86" y1="393.06" x2="638.86" y2="405.86" stroke="#343434" stroke-width="2.3"/>
<line x1="658.88" y1="404.63" x2="658.88" y2="417.43" stroke="#343434" stroke-width="2.3"/>
<line x1="678.9" y1="416.2" x2="678.9" y2="429" stroke="#343434" stroke-width="2.3"/>
<polygon points="69.7,181.3 78.3,176.6 86.9,181.3 86.9,189.7 78.3,194.4 69.7,189.7" fill="#fff" stroke="#2a2a2a" stroke-width="0.9" stroke-linejoin="round"/>
<line x1="69.7" y1="181.3" x2="78.3" y2="186" stroke="#2a2a2a" stroke-width="0.9"/>
<line x1="86.9" y1="181.3" x2="78.3" y2="186" stroke="#2a2a2a" stroke-width="0.9"/>
<line x1="78.3" y1="186" x2="78.3" y2="194.4" stroke="#2a2a2a" stroke-width="0.9"/>
<polygon points="109.7,204.44 118.3,199.74 126.9,204.44 126.9,212.84 118.3,217.54 109.7,212.84" fill="#fff" stroke="#2a2a2a" stroke-width="0.9" stroke-linejoin="round"/>
<line x1="109.7" y1="204.44" x2="118.3" y2="209.14" stroke="#2a2a2a" stroke-width="0.9"/>
<line x1="126.9" y1="204.44" x2="118.3" y2="209.14" stroke="#2a2a2a" stroke-width="0.9"/>
<line x1="118.3" y1="209.14" x2="118.3" y2="217.54" stroke="#2a2a2a" stroke-width="0.9"/>
<polygon points="149.7,227.58 158.3,222.88 166.9,227.58 166.9,235.98 158.3,240.68 149.7,235.98" fill="#fff" stroke="#2a2a2a" stroke-width="0.9" stroke-linejoin="round"/>
<line x1="149.7" y1="227.58" x2="158.3" y2="232.28" stroke="#2a2a2a" stroke-width="0.9"/>
<line x1="166.9" y1="227.58" x2="158.3" y2="232.28" stroke="#2a2a2a" stroke-width="0.9"/>
<line x1="158.3" y1="232.28" x2="158.3" y2="240.68" stroke="#2a2a2a" stroke-width="0.9"/>
<polygon points="189.7,250.73 198.3,246.03 206.9,250.73 206.9,259.12 198.3,263.82 189.7,259.12" fill="#fff" stroke="#2a2a2a" stroke-width="0.9" stroke-linejoin="round"/>
<line x1="189.7" y1="250.73" x2="198.3" y2="255.43" stroke="#2a2a2a" stroke-width="0.9"/>
<line x1="206.9" y1="250.73" x2="198.3" y2="255.43" stroke="#2a2a2a" stroke-width="0.9"/>
<line x1="198.3" y1="255.43" x2="198.3" y2="263.82" stroke="#2a2a2a" stroke-width="0.9"/>
<polygon points="229.7,273.87 238.3,269.17 246.9,273.87 246.9,282.27 238.3,286.97 229.7,282.27" fill="#fff" stroke="#2a2a2a" stroke-width="0.9" stroke-linejoin="round"/>
<line x1="229.7" y1="273.87" x2="238.3" y2="278.57" stroke="#2a2a2a" stroke-width="0.9"/>
<line x1="246.9" y1="273.87" x2="238.3" y2="278.57" stroke="#2a2a2a" stroke-width="0.9"/>
<line x1="238.3" y1="278.57" x2="238.3" y2="286.97" stroke="#2a2a2a" stroke-width="0.9"/>
<polygon points="269.7,297.01 278.3,292.31 286.9,297.01 286.9,305.41 278.3,310.11 269.7,305.41" fill="#fff" stroke="#2a2a2a" stroke-width="0.9" stroke-linejoin="round"/>
<line x1="269.7" y1="297.01" x2="278.3" y2="301.71" stroke="#2a2a2a" stroke-width="0.9"/>
<line x1="286.9" y1="297.01" x2="278.3" y2="301.71" stroke="#2a2a2a" stroke-width="0.9"/>
<line x1="278.3" y1="301.71" x2="278.3" y2="310.11" stroke="#2a2a2a" stroke-width="0.9"/>
<polygon points="309.7,320.15 318.3,315.45 326.9,320.15 326.9,328.55 318.3,333.25 309.7,328.55" fill="#fff" stroke="#2a2a2a" stroke-width="0.9" stroke-linejoin="round"/>
<line x1="309.7" y1="320.15" x2="318.3" y2="324.85" stroke="#2a2a2a" stroke-width="0.9"/>
<line x1="326.9" y1="320.15" x2="318.3" y2="324.85" stroke="#2a2a2a" stroke-width="0.9"/>
<line x1="318.3" y1="324.85" x2="318.3" y2="333.25" stroke="#2a2a2a" stroke-width="0.9"/>
<polygon points="349.7,343.29 358.3,338.59 366.9,343.29 366.9,351.69 358.3,356.39 349.7,351.69" fill="#fff" stroke="#2a2a2a" stroke-width="0.9" stroke-linejoin="round"/>
<line x1="349.7" y1="343.29" x2="358.3" y2="347.99" stroke="#2a2a2a" stroke-width="0.9"/>
<line x1="366.9" y1="343.29" x2="358.3" y2="347.99" stroke="#2a2a2a" stroke-width="0.9"/>
<line x1="358.3" y1="347.99" x2="358.3" y2="356.39" stroke="#2a2a2a" stroke-width="0.9"/>
<polygon points="389.7,366.43 398.3,361.73 406.9,366.43 406.9,374.83 398.3,379.53 389.7,374.83" fill="#fff" stroke="#2a2a2a" stroke-width="0.9" stroke-linejoin="round"/>
<line x1="389.7" y1="366.43" x2="398.3" y2="371.13" stroke="#2a2a2a" stroke-width="0.9"/>
<line x1="406.9" y1="366.43" x2="398.3" y2="371.13" stroke="#2a2a2a" stroke-width="0.9"/>
<line x1="398.3" y1="371.13" x2="398.3" y2="379.53" stroke="#2a2a2a" stroke-width="0.9"/>
<polygon points="429.7,389.58 438.3,384.88 446.9,389.58 446.9,397.98 438.3,402.68 429.7,397.98" fill="#fff" stroke="#2a2a2a" stroke-width="0.9" stroke-linejoin="round"/>
<line x1="429.7" y1="389.58" x2="438.3" y2="394.28" stroke="#2a2a2a" stroke-width="0.9"/>
<line x1="446.9" y1="389.58" x2="438.3" y2="394.28" stroke="#2a2a2a" stroke-width="0.9"/>
<line x1="438.3" y1="394.28" x2="438.3" y2="402.68" stroke="#2a2a2a" stroke-width="0.9"/>
<polygon points="469.7,412.72 478.3,408.02 486.9,412.72 486.9,421.12 478.3,425.82 469.7,421.12" fill="#fff" stroke="#2a2a2a" stroke-width="0.9" stroke-linejoin="round"/>
<line x1="469.7" y1="412.72" x2="478.3" y2="417.42" stroke="#2a2a2a" stroke-width="0.9"/>
<line x1="486.9" y1="412.72" x2="478.3" y2="417.42" stroke="#2a2a2a" stroke-width="0.9"/>
<line x1="478.3" y1="417.42" x2="478.3" y2="425.82" stroke="#2a2a2a" stroke-width="0.9"/>
<polygon points="509.7,435.86 518.3,431.16 526.9,435.86 526.9,444.26 518.3,448.96 509.7,444.26" fill="#fff" stroke="#2a2a2a" stroke-width="0.9" stroke-linejoin="round"/>
<line x1="509.7" y1="435.86" x2="518.3" y2="440.56" stroke="#2a2a2a" stroke-width="0.9"/>
<line x1="526.9" y1="435.86" x2="518.3" y2="440.56" stroke="#2a2a2a" stroke-width="0.9"/>
<line x1="518.3" y1="440.56" x2="518.3" y2="448.96" stroke="#2a2a2a" stroke-width="0.9"/>
<polygon points="549.7,459 558.3,454.3 566.9,459 566.9,467.4 558.3,472.1 549.7,467.4" fill="#fff" stroke="#2a2a2a" stroke-width="0.9" stroke-linejoin="round"/>
<line x1="549.7" y1="459" x2="558.3" y2="463.7" stroke="#2a2a2a" stroke-width="0.9"/>
<line x1="566.9" y1="459" x2="558.3" y2="463.7" stroke="#2a2a2a" stroke-width="0.9"/>
<line x1="558.3" y1="463.7" x2="558.3" y2="472.1" stroke="#2a2a2a" stroke-width="0.9"/>
<polygon points="23.3,147.02 585,471.3 585,477.9 23.3,153.62" fill="#787878" stroke="none" stroke-width="1" stroke-linejoin="miter"/>
<line x1="23.3" y1="147.42" x2="585" y2="471.7" stroke="#3c3c3c" stroke-width="0.9"/>
<line x1="23.3" y1="149.32" x2="585" y2="473.6" stroke="#4a4a4a" stroke-width="0.8"/>
<line x1="23.3" y1="151.32" x2="585" y2="475.6" stroke="#4a4a4a" stroke-width="0.8"/>
<line x1="23.3" y1="153.22" x2="585" y2="477.5" stroke="#3c3c3c" stroke-width="0.9"/>
<line x1="24.3" y1="146.6" x2="24.3" y2="159.4" stroke="#343434" stroke-width="2.3"/>
<line x1="44.33" y1="158.16" x2="44.33" y2="170.96" stroke="#343434" stroke-width="2.3"/>
<line x1="64.35" y1="169.72" x2="64.35" y2="182.52" stroke="#343434" stroke-width="2.3"/>
<line x1="84.38" y1="181.28" x2="84.38" y2="194.08" stroke="#343434" stroke-width="2.3"/>
<line x1="104.4" y1="192.84" x2="104.4" y2="205.64" stroke="#343434" stroke-width="2.3"/>
<line x1="124.42" y1="204.4" x2="124.42" y2="217.2" stroke="#343434" stroke-width="2.3"/>
<line x1="144.45" y1="215.96" x2="144.45" y2="228.76" stroke="#343434" stroke-width="2.3"/>
<line x1="164.48" y1="227.53" x2="164.48" y2="240.33" stroke="#343434" stroke-width="2.3"/>
<line x1="184.5" y1="239.09" x2="184.5" y2="251.89" stroke="#343434" stroke-width="2.3"/>
<line x1="204.53" y1="250.65" x2="204.53" y2="263.45" stroke="#343434" stroke-width="2.3"/>
<line x1="224.55" y1="262.21" x2="224.55" y2="275.01" stroke="#343434" stroke-width="2.3"/>
<line x1="244.58" y1="273.77" x2="244.58" y2="286.57" stroke="#343434" stroke-width="2.3"/>
<line x1="264.6" y1="285.33" x2="264.6" y2="298.13" stroke="#343434" stroke-width="2.3"/>
<line x1="284.62" y1="296.89" x2="284.62" y2="309.69" stroke="#343434" stroke-width="2.3"/>
<line x1="304.65" y1="308.45" x2="304.65" y2="321.25" stroke="#343434" stroke-width="2.3"/>
<line x1="324.68" y1="320.01" x2="324.68" y2="332.81" stroke="#343434" stroke-width="2.3"/>
<line x1="344.7" y1="331.57" x2="344.7" y2="344.37" stroke="#343434" stroke-width="2.3"/>
<line x1="364.73" y1="343.13" x2="364.73" y2="355.93" stroke="#343434" stroke-width="2.3"/>
<line x1="384.75" y1="354.69" x2="384.75" y2="367.49" stroke="#343434" stroke-width="2.3"/>
<line x1="404.78" y1="366.25" x2="404.78" y2="379.05" stroke="#343434" stroke-width="2.3"/>
<line x1="424.8" y1="377.81" x2="424.8" y2="390.61" stroke="#343434" stroke-width="2.3"/>
<line x1="444.83" y1="389.38" x2="444.83" y2="402.18" stroke="#343434" stroke-width="2.3"/>
<line x1="464.85" y1="400.94" x2="464.85" y2="413.74" stroke="#343434" stroke-width="2.3"/>
<line x1="484.88" y1="412.5" x2="484.88" y2="425.3" stroke="#343434" stroke-width="2.3"/>
<line x1="504.9" y1="424.06" x2="504.9" y2="436.86" stroke="#343434" stroke-width="2.3"/>
<line x1="524.93" y1="435.62" x2="524.93" y2="448.42" stroke="#343434" stroke-width="2.3"/>
<line x1="544.95" y1="447.18" x2="544.95" y2="459.98" stroke="#343434" stroke-width="2.3"/>
<line x1="564.98" y1="458.74" x2="564.98" y2="471.54" stroke="#343434" stroke-width="2.3"/>
<line x1="585" y1="470.3" x2="585" y2="483.1" stroke="#343434" stroke-width="2.3"/>
<polygon points="76.6,139.26 80,139.26 80,181.8 76.6,181.8" fill="#e2e2e2" stroke="none" stroke-width="1" stroke-linejoin="miter"/>
<line x1="76.6" y1="139.26" x2="76.6" y2="181.8" stroke="#1c1c1c" stroke-width="0.9"/>
<line x1="80" y1="139.26" x2="80" y2="181.8" stroke="#1c1c1c" stroke-width="0.9"/>
<polygon points="116.6,162.47 120,162.47 120,204.94 116.6,204.94" fill="#e2e2e2" stroke="none" stroke-width="1" stroke-linejoin="miter"/>
<line x1="116.6" y1="162.47" x2="116.6" y2="204.94" stroke="#1c1c1c" stroke-width="0.9"/>
<line x1="120" y1="162.47" x2="120" y2="204.94" stroke="#1c1c1c" stroke-width="0.9"/>
<polygon points="156.6,185.67 160,185.67 160,228.08 156.6,228.08" fill="#e2e2e2" stroke="none" stroke-width="1" stroke-linejoin="miter"/>
<line x1="156.6" y1="185.67" x2="156.6" y2="228.08" stroke="#1c1c1c" stroke-width="0.9"/>
<line x1="160" y1="185.67" x2="160" y2="228.08" stroke="#1c1c1c" stroke-width="0.9"/>
<polygon points="196.6,208.87 200,208.87 200,251.23 196.6,251.23" fill="#e2e2e2" stroke="none" stroke-width="1" stroke-linejoin="miter"/>
<line x1="196.6" y1="208.87" x2="196.6" y2="251.23" stroke="#1c1c1c" stroke-width="0.9"/>
<line x1="200" y1="208.87" x2="200" y2="251.23" stroke="#1c1c1c" stroke-width="0.9"/>
<polygon points="236.6,232.07 240,232.07 240,274.37 236.6,274.37" fill="#e2e2e2" stroke="none" stroke-width="1" stroke-linejoin="miter"/>
<line x1="236.6" y1="232.07" x2="236.6" y2="274.37" stroke="#1c1c1c" stroke-width="0.9"/>
<line x1="240" y1="232.07" x2="240" y2="274.37" stroke="#1c1c1c" stroke-width="0.9"/>
<polygon points="276.6,255.27 280,255.27 280,297.51 276.6,297.51" fill="#e2e2e2" stroke="none" stroke-width="1" stroke-linejoin="miter"/>
<line x1="276.6" y1="255.27" x2="276.6" y2="297.51" stroke="#1c1c1c" stroke-width="0.9"/>
<line x1="280" y1="255.27" x2="280" y2="297.51" stroke="#1c1c1c" stroke-width="0.9"/>
<polygon points="316.6,278.47 320,278.47 320,320.65 316.6,320.65" fill="#e2e2e2" stroke="none" stroke-width="1" stroke-linejoin="miter"/>
<line x1="316.6" y1="278.47" x2="316.6" y2="320.65" stroke="#1c1c1c" stroke-width="0.9"/>
<line x1="320" y1="278.47" x2="320" y2="320.65" stroke="#1c1c1c" stroke-width="0.9"/>
<polygon points="356.6,301.67 360,301.67 360,343.79 356.6,343.79" fill="#e2e2e2" stroke="none" stroke-width="1" stroke-linejoin="miter"/>
<line x1="356.6" y1="301.67" x2="356.6" y2="343.79" stroke="#1c1c1c" stroke-width="0.9"/>
<line x1="360" y1="301.67" x2="360" y2="343.79" stroke="#1c1c1c" stroke-width="0.9"/>
<polygon points="396.6,324.87 400,324.87 400,366.93 396.6,366.93" fill="#e2e2e2" stroke="none" stroke-width="1" stroke-linejoin="miter"/>
<line x1="396.6" y1="324.87" x2="396.6" y2="366.93" stroke="#1c1c1c" stroke-width="0.9"/>
<line x1="400" y1="324.87" x2="400" y2="366.93" stroke="#1c1c1c" stroke-width="0.9"/>
<polygon points="436.6,348.08 440,348.08 440,390.08 436.6,390.08" fill="#e2e2e2" stroke="none" stroke-width="1" stroke-linejoin="miter"/>
<line x1="436.6" y1="348.08" x2="436.6" y2="390.08" stroke="#1c1c1c" stroke-width="0.9"/>
<line x1="440" y1="348.08" x2="440" y2="390.08" stroke="#1c1c1c" stroke-width="0.9"/>
<polygon points="476.6,371.28 480,371.28 480,413.22 476.6,413.22" fill="#e2e2e2" stroke="none" stroke-width="1" stroke-linejoin="miter"/>
<line x1="476.6" y1="371.28" x2="476.6" y2="413.22" stroke="#1c1c1c" stroke-width="0.9"/>
<line x1="480" y1="371.28" x2="480" y2="413.22" stroke="#1c1c1c" stroke-width="0.9"/>
<polygon points="516.6,394.48 520,394.48 520,436.36 516.6,436.36" fill="#e2e2e2" stroke="none" stroke-width="1" stroke-linejoin="miter"/>
<line x1="516.6" y1="394.48" x2="516.6" y2="436.36" stroke="#1c1c1c" stroke-width="0.9"/>
<line x1="520" y1="394.48" x2="520" y2="436.36" stroke="#1c1c1c" stroke-width="0.9"/>
<polygon points="556.6,417.68 560,417.68 560,459.5 556.6,459.5" fill="#e2e2e2" stroke="none" stroke-width="1" stroke-linejoin="miter"/>
<line x1="556.6" y1="417.68" x2="556.6" y2="459.5" stroke="#1c1c1c" stroke-width="0.9"/>
<line x1="560" y1="417.68" x2="560" y2="459.5" stroke="#1c1c1c" stroke-width="0.9"/>
<polygon points="40.8,198.9 46.3,196.1 51.8,198.9 51.8,204.7 46.3,207.5 40.8,204.7" fill="#fff" stroke="#2a2a2a" stroke-width="0.9" stroke-linejoin="round"/>
<line x1="40.8" y1="198.9" x2="46.3" y2="201.7" stroke="#2a2a2a" stroke-width="0.9"/>
<line x1="51.8" y1="198.9" x2="46.3" y2="201.7" stroke="#2a2a2a" stroke-width="0.9"/>
<line x1="46.3" y1="201.7" x2="46.3" y2="207.5" stroke="#2a2a2a" stroke-width="0.9"/>
<polygon points="80.8,222.04 86.3,219.24 91.8,222.04 91.8,227.84 86.3,230.64 80.8,227.84" fill="#fff" stroke="#2a2a2a" stroke-width="0.9" stroke-linejoin="round"/>
<line x1="80.8" y1="222.04" x2="86.3" y2="224.84" stroke="#2a2a2a" stroke-width="0.9"/>
<line x1="91.8" y1="222.04" x2="86.3" y2="224.84" stroke="#2a2a2a" stroke-width="0.9"/>
<line x1="86.3" y1="224.84" x2="86.3" y2="230.64" stroke="#2a2a2a" stroke-width="0.9"/>
<polygon points="120.8,245.18 126.3,242.38 131.8,245.18 131.8,250.98 126.3,253.78 120.8,250.98" fill="#fff" stroke="#2a2a2a" stroke-width="0.9" stroke-linejoin="round"/>
<line x1="120.8" y1="245.18" x2="126.3" y2="247.98" stroke="#2a2a2a" stroke-width="0.9"/>
<line x1="131.8" y1="245.18" x2="126.3" y2="247.98" stroke="#2a2a2a" stroke-width="0.9"/>
<line x1="126.3" y1="247.98" x2="126.3" y2="253.78" stroke="#2a2a2a" stroke-width="0.9"/>
<polygon points="160.8,268.33 166.3,265.53 171.8,268.33 171.8,274.13 166.3,276.93 160.8,274.13" fill="#fff" stroke="#2a2a2a" stroke-width="0.9" stroke-linejoin="round"/>
<line x1="160.8" y1="268.33" x2="166.3" y2="271.13" stroke="#2a2a2a" stroke-width="0.9"/>
<line x1="171.8" y1="268.33" x2="166.3" y2="271.13" stroke="#2a2a2a" stroke-width="0.9"/>
<line x1="166.3" y1="271.13" x2="166.3" y2="276.93" stroke="#2a2a2a" stroke-width="0.9"/>
<polygon points="200.8,291.47 206.3,288.67 211.8,291.47 211.8,297.27 206.3,300.07 200.8,297.27" fill="#fff" stroke="#2a2a2a" stroke-width="0.9" stroke-linejoin="round"/>
<line x1="200.8" y1="291.47" x2="206.3" y2="294.27" stroke="#2a2a2a" stroke-width="0.9"/>
<line x1="211.8" y1="291.47" x2="206.3" y2="294.27" stroke="#2a2a2a" stroke-width="0.9"/>
<line x1="206.3" y1="294.27" x2="206.3" y2="300.07" stroke="#2a2a2a" stroke-width="0.9"/>
<polygon points="240.8,314.61 246.3,311.81 251.8,314.61 251.8,320.41 246.3,323.21 240.8,320.41" fill="#fff" stroke="#2a2a2a" stroke-width="0.9" stroke-linejoin="round"/>
<line x1="240.8" y1="314.61" x2="246.3" y2="317.41" stroke="#2a2a2a" stroke-width="0.9"/>
<line x1="251.8" y1="314.61" x2="246.3" y2="317.41" stroke="#2a2a2a" stroke-width="0.9"/>
<line x1="246.3" y1="317.41" x2="246.3" y2="323.21" stroke="#2a2a2a" stroke-width="0.9"/>
<polygon points="280.8,337.75 286.3,334.95 291.8,337.75 291.8,343.55 286.3,346.35 280.8,343.55" fill="#fff" stroke="#2a2a2a" stroke-width="0.9" stroke-linejoin="round"/>
<line x1="280.8" y1="337.75" x2="286.3" y2="340.55" stroke="#2a2a2a" stroke-width="0.9"/>
<line x1="291.8" y1="337.75" x2="286.3" y2="340.55" stroke="#2a2a2a" stroke-width="0.9"/>
<line x1="286.3" y1="340.55" x2="286.3" y2="346.35" stroke="#2a2a2a" stroke-width="0.9"/>
<polygon points="320.8,360.89 326.3,358.09 331.8,360.89 331.8,366.69 326.3,369.49 320.8,366.69" fill="#fff" stroke="#2a2a2a" stroke-width="0.9" stroke-linejoin="round"/>
<line x1="320.8" y1="360.89" x2="326.3" y2="363.69" stroke="#2a2a2a" stroke-width="0.9"/>
<line x1="331.8" y1="360.89" x2="326.3" y2="363.69" stroke="#2a2a2a" stroke-width="0.9"/>
<line x1="326.3" y1="363.69" x2="326.3" y2="369.49" stroke="#2a2a2a" stroke-width="0.9"/>
<polygon points="360.8,384.03 366.3,381.23 371.8,384.03 371.8,389.83 366.3,392.63 360.8,389.83" fill="#fff" stroke="#2a2a2a" stroke-width="0.9" stroke-linejoin="round"/>
<line x1="360.8" y1="384.03" x2="366.3" y2="386.83" stroke="#2a2a2a" stroke-width="0.9"/>
<line x1="371.8" y1="384.03" x2="366.3" y2="386.83" stroke="#2a2a2a" stroke-width="0.9"/>
<line x1="366.3" y1="386.83" x2="366.3" y2="392.63" stroke="#2a2a2a" stroke-width="0.9"/>
<polygon points="400.8,407.18 406.3,404.38 411.8,407.18 411.8,412.98 406.3,415.78 400.8,412.98" fill="#fff" stroke="#2a2a2a" stroke-width="0.9" stroke-linejoin="round"/>
<line x1="400.8" y1="407.18" x2="406.3" y2="409.98" stroke="#2a2a2a" stroke-width="0.9"/>
<line x1="411.8" y1="407.18" x2="406.3" y2="409.98" stroke="#2a2a2a" stroke-width="0.9"/>
<line x1="406.3" y1="409.98" x2="406.3" y2="415.78" stroke="#2a2a2a" stroke-width="0.9"/>
<polygon points="440.8,430.32 446.3,427.52 451.8,430.32 451.8,436.12 446.3,438.92 440.8,436.12" fill="#fff" stroke="#2a2a2a" stroke-width="0.9" stroke-linejoin="round"/>
<line x1="440.8" y1="430.32" x2="446.3" y2="433.12" stroke="#2a2a2a" stroke-width="0.9"/>
<line x1="451.8" y1="430.32" x2="446.3" y2="433.12" stroke="#2a2a2a" stroke-width="0.9"/>
<line x1="446.3" y1="433.12" x2="446.3" y2="438.92" stroke="#2a2a2a" stroke-width="0.9"/>
<polygon points="480.8,453.46 486.3,450.66 491.8,453.46 491.8,459.26 486.3,462.06 480.8,459.26" fill="#fff" stroke="#2a2a2a" stroke-width="0.9" stroke-linejoin="round"/>
<line x1="480.8" y1="453.46" x2="486.3" y2="456.26" stroke="#2a2a2a" stroke-width="0.9"/>
<line x1="491.8" y1="453.46" x2="486.3" y2="456.26" stroke="#2a2a2a" stroke-width="0.9"/>
<line x1="486.3" y1="456.26" x2="486.3" y2="462.06" stroke="#2a2a2a" stroke-width="0.9"/>
<polygon points="520.8,476.6 526.3,473.8 531.8,476.6 531.8,482.4 526.3,485.2 520.8,482.4" fill="#fff" stroke="#2a2a2a" stroke-width="0.9" stroke-linejoin="round"/>
<line x1="520.8" y1="476.6" x2="526.3" y2="479.4" stroke="#2a2a2a" stroke-width="0.9"/>
<line x1="531.8" y1="476.6" x2="526.3" y2="479.4" stroke="#2a2a2a" stroke-width="0.9"/>
<line x1="526.3" y1="479.4" x2="526.3" y2="485.2" stroke="#2a2a2a" stroke-width="0.9"/>
<line x1="78.3" y1="149.5" x2="46.7" y2="198.6" stroke="#111" stroke-width="2.4" stroke-linecap="round"/>
<line x1="118.3" y1="172.53" x2="86.7" y2="221.74" stroke="#111" stroke-width="2.4" stroke-linecap="round"/>
<line x1="158.3" y1="195.57" x2="126.7" y2="244.88" stroke="#111" stroke-width="2.4" stroke-linecap="round"/>
<line x1="198.3" y1="218.6" x2="166.7" y2="268.03" stroke="#111" stroke-width="2.4" stroke-linecap="round"/>
<line x1="238.3" y1="241.63" x2="206.7" y2="291.17" stroke="#111" stroke-width="2.4" stroke-linecap="round"/>
<line x1="278.3" y1="264.67" x2="246.7" y2="314.31" stroke="#111" stroke-width="2.4" stroke-linecap="round"/>
<line x1="318.3" y1="287.7" x2="286.7" y2="337.45" stroke="#111" stroke-width="2.4" stroke-linecap="round"/>
<line x1="358.3" y1="310.73" x2="326.7" y2="360.59" stroke="#111" stroke-width="2.4" stroke-linecap="round"/>
<line x1="398.3" y1="333.77" x2="366.7" y2="383.73" stroke="#111" stroke-width="2.4" stroke-linecap="round"/>
<line x1="438.3" y1="356.8" x2="406.7" y2="406.88" stroke="#111" stroke-width="2.4" stroke-linecap="round"/>
<line x1="478.3" y1="379.83" x2="446.7" y2="430.02" stroke="#111" stroke-width="2.4" stroke-linecap="round"/>
<line x1="518.3" y1="402.87" x2="486.7" y2="453.16" stroke="#111" stroke-width="2.4" stroke-linecap="round"/>
<line x1="558.3" y1="425.9" x2="526.7" y2="476.3" stroke="#111" stroke-width="2.4" stroke-linecap="round"/>
<line x1="78.3" y1="149.5" x2="558.3" y2="425.9" stroke="#111" stroke-width="2.2"/>
<line x1="78.3" y1="172" x2="558.3" y2="448.8" stroke="#111" stroke-width="2.2"/>
<line x1="78.3" y1="149.5" x2="118.3" y2="195.07" stroke="#111" stroke-width="2"/>
<line x1="118.3" y1="194.87" x2="158.3" y2="194.67" stroke="#111" stroke-width="2"/>
<line x1="158.3" y1="195.57" x2="198.3" y2="241.2" stroke="#111" stroke-width="2"/>
<line x1="198.3" y1="241" x2="238.3" y2="240.73" stroke="#111" stroke-width="2"/>
<line x1="238.3" y1="241.63" x2="278.3" y2="287.33" stroke="#111" stroke-width="2"/>
<line x1="278.3" y1="287.13" x2="318.3" y2="286.8" stroke="#111" stroke-width="2"/>
<line x1="318.3" y1="287.7" x2="358.3" y2="333.47" stroke="#111" stroke-width="2"/>
<line x1="358.3" y1="333.27" x2="398.3" y2="332.87" stroke="#111" stroke-width="2"/>
<line x1="398.3" y1="333.77" x2="438.3" y2="379.6" stroke="#111" stroke-width="2"/>
<line x1="438.3" y1="379.4" x2="478.3" y2="378.93" stroke="#111" stroke-width="2"/>
<line x1="478.3" y1="379.83" x2="518.3" y2="425.73" stroke="#111" stroke-width="2"/>
<line x1="518.3" y1="425.53" x2="558.3" y2="425" stroke="#111" stroke-width="2"/>
<polygon points="64.6,126.92 67.5,127 572.3,419.8 569.5,421.5 569.5,426.2 64.6,131.92" fill="#fff" stroke="none" stroke-width="1" stroke-linejoin="miter"/>
<polygon points="64.6,127.02 67.5,127 572.3,419.8 569.5,421.5 569.5,422.17 64.6,127.68" fill="#8a8a8a" stroke="none" stroke-width="1" stroke-linejoin="miter"/>
<polygon points="64.6,127.68 569.5,422.17 569.5,424.03 64.6,129.55" fill="#d4d4d4" stroke="none" stroke-width="1" stroke-linejoin="miter"/>
<line x1="67.5" y1="127.5" x2="572.3" y2="420.3" stroke="#161616" stroke-width="1.1"/>
<line x1="64.6" y1="127.68" x2="569.5" y2="422.17" stroke="#161616" stroke-width="1.1"/>
<line x1="64.6" y1="129.55" x2="569.5" y2="424.03" stroke="#2a2a2a" stroke-width="0.9"/>
<line x1="64.6" y1="131.42" x2="569.5" y2="425.9" stroke="#161616" stroke-width="1.2"/>
<line x1="65" y1="126.82" x2="65" y2="131.92" stroke="#161616" stroke-width="1"/>
<line x1="569.7" y1="421.5" x2="569.7" y2="426.2" stroke="#161616" stroke-width="0.9"/>
<line x1="572.3" y1="419.8" x2="569.5" y2="421.5" stroke="#161616" stroke-width="0.9"/>
<polygon points="468.5,356.2 668.5,240.6 718.1,269.27 718.1,275.27 518.1,390.87 518.1,384.87" fill="#fff" stroke="none" stroke-width="1" stroke-linejoin="miter"/>
<polygon points="468.5,356.2 518.1,384.87 518.1,389.47 468.5,360.8" fill="#fff" stroke="none" stroke-width="1" stroke-linejoin="miter"/>
<line x1="468.5" y1="360.8" x2="518.1" y2="389.47" stroke="#141414" stroke-width="1.2"/>
<line x1="469.3" y1="356.2" x2="469.3" y2="364.2" stroke="#141414" stroke-width="2.5"/>
<line x1="467.7" y1="363.6" x2="471.3" y2="365.4" stroke="#141414" stroke-width="1.6"/>
<line x1="481.7" y1="363.37" x2="481.7" y2="371.37" stroke="#141414" stroke-width="2.5"/>
<line x1="480.1" y1="370.77" x2="483.7" y2="372.57" stroke="#141414" stroke-width="1.6"/>
<line x1="494.1" y1="370.53" x2="494.1" y2="378.53" stroke="#141414" stroke-width="2.5"/>
<line x1="492.5" y1="377.93" x2="496.1" y2="379.73" stroke="#141414" stroke-width="1.6"/>
<line x1="506.5" y1="377.7" x2="506.5" y2="385.7" stroke="#141414" stroke-width="2.5"/>
<line x1="504.9" y1="385.1" x2="508.5" y2="386.9" stroke="#141414" stroke-width="1.6"/>
<line x1="518.9" y1="384.87" x2="518.9" y2="392.87" stroke="#141414" stroke-width="2.5"/>
<line x1="517.3" y1="392.27" x2="520.9" y2="394.07" stroke="#141414" stroke-width="1.6"/>
<line x1="668.8" y1="238.4" x2="668.8" y2="243.2" stroke="#141414" stroke-width="1.7"/>
<line x1="681.2" y1="245.57" x2="681.2" y2="250.37" stroke="#141414" stroke-width="1.7"/>
<line x1="693.6" y1="252.73" x2="693.6" y2="257.53" stroke="#141414" stroke-width="1.7"/>
<line x1="706" y1="259.9" x2="706" y2="264.7" stroke="#141414" stroke-width="1.7"/>
<line x1="718.4" y1="267.07" x2="718.4" y2="271.87" stroke="#141414" stroke-width="1.7"/>
<line x1="519.1" y1="390.87" x2="718.1" y2="275.27" stroke="#141414" stroke-width="1.6"/>
<line x1="518.1" y1="390.87" x2="522.45" y2="382.36" stroke="#141414" stroke-width="1.1"/>
<line x1="522.45" y1="382.36" x2="526.8" y2="385.84" stroke="#141414" stroke-width="1.1"/>
<line x1="526.8" y1="379.84" x2="526.8" y2="385.84" stroke="#141414" stroke-width="1.2"/>
<line x1="526.8" y1="385.84" x2="531.14" y2="377.33" stroke="#141414" stroke-width="1.1"/>
<line x1="531.14" y1="377.33" x2="535.49" y2="380.82" stroke="#141414" stroke-width="1.1"/>
<line x1="535.49" y1="374.82" x2="535.49" y2="380.82" stroke="#141414" stroke-width="1.2"/>
<line x1="535.49" y1="380.82" x2="539.84" y2="372.3" stroke="#141414" stroke-width="1.1"/>
<line x1="539.84" y1="372.3" x2="544.19" y2="375.79" stroke="#141414" stroke-width="1.1"/>
<line x1="544.19" y1="369.79" x2="544.19" y2="375.79" stroke="#141414" stroke-width="1.2"/>
<line x1="544.19" y1="375.79" x2="548.53" y2="367.28" stroke="#141414" stroke-width="1.1"/>
<line x1="548.53" y1="367.28" x2="552.88" y2="370.76" stroke="#141414" stroke-width="1.1"/>
<line x1="552.88" y1="364.76" x2="552.88" y2="370.76" stroke="#141414" stroke-width="1.2"/>
<line x1="552.88" y1="370.76" x2="557.23" y2="362.25" stroke="#141414" stroke-width="1.1"/>
<line x1="557.23" y1="362.25" x2="561.58" y2="365.74" stroke="#141414" stroke-width="1.1"/>
<line x1="561.58" y1="359.74" x2="561.58" y2="365.74" stroke="#141414" stroke-width="1.2"/>
<line x1="561.58" y1="365.74" x2="565.93" y2="357.23" stroke="#141414" stroke-width="1.1"/>
<line x1="565.93" y1="357.23" x2="570.27" y2="360.71" stroke="#141414" stroke-width="1.1"/>
<line x1="570.27" y1="354.71" x2="570.27" y2="360.71" stroke="#141414" stroke-width="1.2"/>
<line x1="570.27" y1="360.71" x2="574.62" y2="352.2" stroke="#141414" stroke-width="1.1"/>
<line x1="574.62" y1="352.2" x2="578.97" y2="355.69" stroke="#141414" stroke-width="1.1"/>
<line x1="578.97" y1="349.69" x2="578.97" y2="355.69" stroke="#141414" stroke-width="1.2"/>
<line x1="578.97" y1="355.69" x2="583.32" y2="347.17" stroke="#141414" stroke-width="1.1"/>
<line x1="583.32" y1="347.17" x2="587.67" y2="350.66" stroke="#141414" stroke-width="1.1"/>
<line x1="587.67" y1="344.66" x2="587.67" y2="350.66" stroke="#141414" stroke-width="1.2"/>
<line x1="587.67" y1="350.66" x2="592.01" y2="342.15" stroke="#141414" stroke-width="1.1"/>
<line x1="592.01" y1="342.15" x2="596.36" y2="345.63" stroke="#141414" stroke-width="1.1"/>
<line x1="596.36" y1="339.63" x2="596.36" y2="345.63" stroke="#141414" stroke-width="1.2"/>
<line x1="596.36" y1="345.63" x2="600.71" y2="337.12" stroke="#141414" stroke-width="1.1"/>
<line x1="600.71" y1="337.12" x2="605.06" y2="340.61" stroke="#141414" stroke-width="1.1"/>
<line x1="605.06" y1="334.61" x2="605.06" y2="340.61" stroke="#141414" stroke-width="1.2"/>
<line x1="605.06" y1="340.61" x2="609.4" y2="332.09" stroke="#141414" stroke-width="1.1"/>
<line x1="609.4" y1="332.09" x2="613.75" y2="335.58" stroke="#141414" stroke-width="1.1"/>
<line x1="613.75" y1="329.58" x2="613.75" y2="335.58" stroke="#141414" stroke-width="1.2"/>
<line x1="613.75" y1="335.58" x2="618.1" y2="327.07" stroke="#141414" stroke-width="1.1"/>
<line x1="618.1" y1="327.07" x2="622.45" y2="330.56" stroke="#141414" stroke-width="1.1"/>
<line x1="622.45" y1="324.56" x2="622.45" y2="330.56" stroke="#141414" stroke-width="1.2"/>
<line x1="622.45" y1="330.56" x2="626.8" y2="322.04" stroke="#141414" stroke-width="1.1"/>
<line x1="626.8" y1="322.04" x2="631.14" y2="325.53" stroke="#141414" stroke-width="1.1"/>
<line x1="631.14" y1="319.53" x2="631.14" y2="325.53" stroke="#141414" stroke-width="1.2"/>
<line x1="631.14" y1="325.53" x2="635.49" y2="317.02" stroke="#141414" stroke-width="1.1"/>
<line x1="635.49" y1="317.02" x2="639.84" y2="320.5" stroke="#141414" stroke-width="1.1"/>
<line x1="639.84" y1="314.5" x2="639.84" y2="320.5" stroke="#141414" stroke-width="1.2"/>
<line x1="639.84" y1="320.5" x2="644.19" y2="311.99" stroke="#141414" stroke-width="1.1"/>
<line x1="644.19" y1="311.99" x2="648.53" y2="315.48" stroke="#141414" stroke-width="1.1"/>
<line x1="648.53" y1="309.48" x2="648.53" y2="315.48" stroke="#141414" stroke-width="1.2"/>
<line x1="648.53" y1="315.48" x2="652.88" y2="306.96" stroke="#141414" stroke-width="1.1"/>
<line x1="652.88" y1="306.96" x2="657.23" y2="310.45" stroke="#141414" stroke-width="1.1"/>
<line x1="657.23" y1="304.45" x2="657.23" y2="310.45" stroke="#141414" stroke-width="1.2"/>
<line x1="657.23" y1="310.45" x2="661.58" y2="301.94" stroke="#141414" stroke-width="1.1"/>
<line x1="661.58" y1="301.94" x2="665.93" y2="305.43" stroke="#141414" stroke-width="1.1"/>
<line x1="665.93" y1="299.43" x2="665.93" y2="305.43" stroke="#141414" stroke-width="1.2"/>
<line x1="665.93" y1="305.43" x2="670.27" y2="296.91" stroke="#141414" stroke-width="1.1"/>
<line x1="670.27" y1="296.91" x2="674.62" y2="300.4" stroke="#141414" stroke-width="1.1"/>
<line x1="674.62" y1="294.4" x2="674.62" y2="300.4" stroke="#141414" stroke-width="1.2"/>
<line x1="674.62" y1="300.4" x2="678.97" y2="291.89" stroke="#141414" stroke-width="1.1"/>
<line x1="678.97" y1="291.89" x2="683.32" y2="295.37" stroke="#141414" stroke-width="1.1"/>
<line x1="683.32" y1="289.37" x2="683.32" y2="295.37" stroke="#141414" stroke-width="1.2"/>
<line x1="683.32" y1="295.37" x2="687.67" y2="286.86" stroke="#141414" stroke-width="1.1"/>
<line x1="687.67" y1="286.86" x2="692.01" y2="290.35" stroke="#141414" stroke-width="1.1"/>
<line x1="692.01" y1="284.35" x2="692.01" y2="290.35" stroke="#141414" stroke-width="1.2"/>
<line x1="692.01" y1="290.35" x2="696.36" y2="281.83" stroke="#141414" stroke-width="1.1"/>
<line x1="696.36" y1="281.83" x2="700.71" y2="285.32" stroke="#141414" stroke-width="1.1"/>
<line x1="700.71" y1="279.32" x2="700.71" y2="285.32" stroke="#141414" stroke-width="1.2"/>
<line x1="700.71" y1="285.32" x2="705.06" y2="276.81" stroke="#141414" stroke-width="1.1"/>
<line x1="705.06" y1="276.81" x2="709.4" y2="280.29" stroke="#141414" stroke-width="1.1"/>
<line x1="709.4" y1="274.29" x2="709.4" y2="280.29" stroke="#141414" stroke-width="1.2"/>
<line x1="709.4" y1="280.29" x2="713.75" y2="271.78" stroke="#141414" stroke-width="1.1"/>
<line x1="713.75" y1="271.78" x2="718.1" y2="275.27" stroke="#141414" stroke-width="1.1"/>
<line x1="718.1" y1="269.27" x2="718.1" y2="275.27" stroke="#141414" stroke-width="1.2"/>
<line x1="486.9" y1="365.5" x2="677.9" y2="255.1" stroke="#333" stroke-width="1.1"/>
<line x1="480.9" y1="368.97" x2="489.6" y2="358.34" stroke="#2a2a2a" stroke-width="1"/>
<line x1="489.6" y1="358.34" x2="498.29" y2="358.92" stroke="#2a2a2a" stroke-width="1"/>
<line x1="498.29" y1="358.92" x2="506.99" y2="348.29" stroke="#2a2a2a" stroke-width="1"/>
<line x1="506.99" y1="348.29" x2="515.68" y2="348.86" stroke="#2a2a2a" stroke-width="1"/>
<line x1="515.68" y1="348.86" x2="524.38" y2="338.24" stroke="#2a2a2a" stroke-width="1"/>
<line x1="524.38" y1="338.24" x2="533.07" y2="338.81" stroke="#2a2a2a" stroke-width="1"/>
<line x1="533.07" y1="338.81" x2="541.77" y2="328.18" stroke="#2a2a2a" stroke-width="1"/>
<line x1="541.77" y1="328.18" x2="550.47" y2="328.76" stroke="#2a2a2a" stroke-width="1"/>
<line x1="550.47" y1="328.76" x2="559.16" y2="318.13" stroke="#2a2a2a" stroke-width="1"/>
<line x1="559.16" y1="318.13" x2="567.86" y2="318.71" stroke="#2a2a2a" stroke-width="1"/>
<line x1="567.86" y1="318.71" x2="576.55" y2="308.08" stroke="#2a2a2a" stroke-width="1"/>
<line x1="576.55" y1="308.08" x2="585.25" y2="308.65" stroke="#2a2a2a" stroke-width="1"/>
<line x1="585.25" y1="308.65" x2="593.94" y2="298.03" stroke="#2a2a2a" stroke-width="1"/>
<line x1="593.94" y1="298.03" x2="602.64" y2="298.6" stroke="#2a2a2a" stroke-width="1"/>
<line x1="602.64" y1="298.6" x2="611.33" y2="287.98" stroke="#2a2a2a" stroke-width="1"/>
<line x1="611.33" y1="287.98" x2="620.03" y2="288.55" stroke="#2a2a2a" stroke-width="1"/>
<line x1="620.03" y1="288.55" x2="628.73" y2="277.92" stroke="#2a2a2a" stroke-width="1"/>
<line x1="628.73" y1="277.92" x2="637.42" y2="278.5" stroke="#2a2a2a" stroke-width="1"/>
<line x1="637.42" y1="278.5" x2="646.12" y2="267.87" stroke="#2a2a2a" stroke-width="1"/>
<line x1="646.12" y1="267.87" x2="654.81" y2="268.45" stroke="#2a2a2a" stroke-width="1"/>
<line x1="654.81" y1="268.45" x2="663.51" y2="257.82" stroke="#2a2a2a" stroke-width="1"/>
<line x1="663.51" y1="257.82" x2="672.2" y2="258.39" stroke="#2a2a2a" stroke-width="1"/>
<line x1="672.2" y1="258.39" x2="680.9" y2="247.77" stroke="#2a2a2a" stroke-width="1"/>
<line x1="511.7" y1="379.83" x2="702.7" y2="269.44" stroke="#333" stroke-width="1.1"/>
<line x1="505.7" y1="383.3" x2="514.4" y2="372.68" stroke="#2a2a2a" stroke-width="1"/>
<line x1="514.4" y1="372.68" x2="523.09" y2="373.25" stroke="#2a2a2a" stroke-width="1"/>
<line x1="523.09" y1="373.25" x2="531.79" y2="362.62" stroke="#2a2a2a" stroke-width="1"/>
<line x1="531.79" y1="362.62" x2="540.48" y2="363.2" stroke="#2a2a2a" stroke-width="1"/>
<line x1="540.48" y1="363.2" x2="549.18" y2="352.57" stroke="#2a2a2a" stroke-width="1"/>
<line x1="549.18" y1="352.57" x2="557.87" y2="353.15" stroke="#2a2a2a" stroke-width="1"/>
<line x1="557.87" y1="353.15" x2="566.57" y2="342.52" stroke="#2a2a2a" stroke-width="1"/>
<line x1="566.57" y1="342.52" x2="575.27" y2="343.09" stroke="#2a2a2a" stroke-width="1"/>
<line x1="575.27" y1="343.09" x2="583.96" y2="332.47" stroke="#2a2a2a" stroke-width="1"/>
<line x1="583.96" y1="332.47" x2="592.66" y2="333.04" stroke="#2a2a2a" stroke-width="1"/>
<line x1="592.66" y1="333.04" x2="601.35" y2="322.41" stroke="#2a2a2a" stroke-width="1"/>
<line x1="601.35" y1="322.41" x2="610.05" y2="322.99" stroke="#2a2a2a" stroke-width="1"/>
<line x1="610.05" y1="322.99" x2="618.74" y2="312.36" stroke="#2a2a2a" stroke-width="1"/>
<line x1="618.74" y1="312.36" x2="627.44" y2="312.94" stroke="#2a2a2a" stroke-width="1"/>
<line x1="627.44" y1="312.94" x2="636.13" y2="302.31" stroke="#2a2a2a" stroke-width="1"/>
<line x1="636.13" y1="302.31" x2="644.83" y2="302.88" stroke="#2a2a2a" stroke-width="1"/>
<line x1="644.83" y1="302.88" x2="653.53" y2="292.26" stroke="#2a2a2a" stroke-width="1"/>
<line x1="653.53" y1="292.26" x2="662.22" y2="292.83" stroke="#2a2a2a" stroke-width="1"/>
<line x1="662.22" y1="292.83" x2="670.92" y2="282.21" stroke="#2a2a2a" stroke-width="1"/>
<line x1="670.92" y1="282.21" x2="679.61" y2="282.78" stroke="#2a2a2a" stroke-width="1"/>
<line x1="679.61" y1="282.78" x2="688.31" y2="272.15" stroke="#2a2a2a" stroke-width="1"/>
<line x1="688.31" y1="272.15" x2="697" y2="272.73" stroke="#2a2a2a" stroke-width="1"/>
<line x1="697" y1="272.73" x2="705.7" y2="262.1" stroke="#2a2a2a" stroke-width="1"/>
<line x1="468.5" y1="356.2" x2="518.1" y2="384.87" stroke="#141414" stroke-width="2.2"/>
<line x1="477.2" y1="351.17" x2="526.8" y2="379.84" stroke="#141414" stroke-width="2.2"/>
<line x1="485.89" y1="346.15" x2="535.49" y2="374.82" stroke="#141414" stroke-width="2.2"/>
<line x1="494.59" y1="341.12" x2="544.19" y2="369.79" stroke="#141414" stroke-width="2.2"/>
<line x1="503.28" y1="336.1" x2="552.88" y2="364.76" stroke="#141414" stroke-width="2.2"/>
<line x1="511.98" y1="331.07" x2="561.58" y2="359.74" stroke="#141414" stroke-width="2.2"/>
<line x1="520.67" y1="326.04" x2="570.27" y2="354.71" stroke="#141414" stroke-width="2.2"/>
<line x1="529.37" y1="321.02" x2="578.97" y2="349.69" stroke="#141414" stroke-width="2.2"/>
<line x1="538.07" y1="315.99" x2="587.67" y2="344.66" stroke="#141414" stroke-width="2.2"/>
<line x1="546.76" y1="310.97" x2="596.36" y2="339.63" stroke="#141414" stroke-width="2.2"/>
<line x1="555.46" y1="305.94" x2="605.06" y2="334.61" stroke="#141414" stroke-width="2.2"/>
<line x1="564.15" y1="300.91" x2="613.75" y2="329.58" stroke="#141414" stroke-width="2.2"/>
<line x1="572.85" y1="295.89" x2="622.45" y2="324.56" stroke="#141414" stroke-width="2.2"/>
<line x1="581.54" y1="290.86" x2="631.14" y2="319.53" stroke="#141414" stroke-width="2.2"/>
<line x1="590.24" y1="285.83" x2="639.84" y2="314.5" stroke="#141414" stroke-width="2.2"/>
<line x1="598.93" y1="280.81" x2="648.53" y2="309.48" stroke="#141414" stroke-width="2.2"/>
<line x1="607.63" y1="275.78" x2="657.23" y2="304.45" stroke="#141414" stroke-width="2.2"/>
<line x1="616.33" y1="270.76" x2="665.93" y2="299.43" stroke="#141414" stroke-width="2.2"/>
<line x1="625.02" y1="265.73" x2="674.62" y2="294.4" stroke="#141414" stroke-width="2.2"/>
<line x1="633.72" y1="260.7" x2="683.32" y2="289.37" stroke="#141414" stroke-width="2.2"/>
<line x1="642.41" y1="255.68" x2="692.01" y2="284.35" stroke="#141414" stroke-width="2.2"/>
<line x1="651.11" y1="250.65" x2="700.71" y2="279.32" stroke="#141414" stroke-width="2.2"/>
<line x1="659.8" y1="245.63" x2="709.4" y2="274.29" stroke="#141414" stroke-width="2.2"/>
<line x1="668.5" y1="240.6" x2="718.1" y2="269.27" stroke="#141414" stroke-width="2.2"/>
<polygon points="489.6,358.34 483.6,364.74 489,363.94 491.1,359.54" fill="#2a2a2a" stroke="#141414" stroke-width="0.9" stroke-linejoin="miter"/>
<line x1="493.2" y1="359.54" x2="493.2" y2="363.34" stroke="#141414" stroke-width="1.5"/>
<line x1="483.6" y1="364.54" x2="478.1" y2="362.54" stroke="#141414" stroke-width="1.3"/>
<polygon points="506.99,348.29 500.99,354.69 506.39,353.89 508.49,349.49" fill="#2a2a2a" stroke="#141414" stroke-width="0.9" stroke-linejoin="miter"/>
<line x1="510.59" y1="349.49" x2="510.59" y2="353.29" stroke="#141414" stroke-width="1.5"/>
<line x1="500.99" y1="354.49" x2="495.49" y2="352.49" stroke="#141414" stroke-width="1.3"/>
<polygon points="524.38,338.24 518.38,344.64 523.78,343.84 525.88,339.44" fill="#2a2a2a" stroke="#141414" stroke-width="0.9" stroke-linejoin="miter"/>
<line x1="527.98" y1="339.44" x2="527.98" y2="343.24" stroke="#141414" stroke-width="1.5"/>
<line x1="518.38" y1="344.44" x2="512.88" y2="342.44" stroke="#141414" stroke-width="1.3"/>
<polygon points="541.77,328.18 535.77,334.58 541.17,333.78 543.27,329.38" fill="#2a2a2a" stroke="#141414" stroke-width="0.9" stroke-linejoin="miter"/>
<line x1="545.37" y1="329.38" x2="545.37" y2="333.18" stroke="#141414" stroke-width="1.5"/>
<line x1="535.77" y1="334.38" x2="530.27" y2="332.38" stroke="#141414" stroke-width="1.3"/>
<polygon points="559.16,318.13 553.16,324.53 558.56,323.73 560.66,319.33" fill="#2a2a2a" stroke="#141414" stroke-width="0.9" stroke-linejoin="miter"/>
<line x1="562.76" y1="319.33" x2="562.76" y2="323.13" stroke="#141414" stroke-width="1.5"/>
<line x1="553.16" y1="324.33" x2="547.66" y2="322.33" stroke="#141414" stroke-width="1.3"/>
<polygon points="576.55,308.08 570.55,314.48 575.95,313.68 578.05,309.28" fill="#2a2a2a" stroke="#141414" stroke-width="0.9" stroke-linejoin="miter"/>
<line x1="580.15" y1="309.28" x2="580.15" y2="313.08" stroke="#141414" stroke-width="1.5"/>
<line x1="570.55" y1="314.28" x2="565.05" y2="312.28" stroke="#141414" stroke-width="1.3"/>
<polygon points="593.94,298.03 587.94,304.43 593.34,303.63 595.44,299.23" fill="#2a2a2a" stroke="#141414" stroke-width="0.9" stroke-linejoin="miter"/>
<line x1="597.54" y1="299.23" x2="597.54" y2="303.03" stroke="#141414" stroke-width="1.5"/>
<line x1="587.94" y1="304.23" x2="582.44" y2="302.23" stroke="#141414" stroke-width="1.3"/>
<polygon points="611.33,287.98 605.33,294.38 610.73,293.58 612.83,289.18" fill="#2a2a2a" stroke="#141414" stroke-width="0.9" stroke-linejoin="miter"/>
<line x1="614.93" y1="289.18" x2="614.93" y2="292.98" stroke="#141414" stroke-width="1.5"/>
<line x1="605.33" y1="294.18" x2="599.83" y2="292.18" stroke="#141414" stroke-width="1.3"/>
<polygon points="628.73,277.92 622.73,284.32 628.13,283.52 630.23,279.12" fill="#2a2a2a" stroke="#141414" stroke-width="0.9" stroke-linejoin="miter"/>
<line x1="632.33" y1="279.12" x2="632.33" y2="282.92" stroke="#141414" stroke-width="1.5"/>
<line x1="622.73" y1="284.12" x2="617.23" y2="282.12" stroke="#141414" stroke-width="1.3"/>
<polygon points="646.12,267.87 640.12,274.27 645.52,273.47 647.62,269.07" fill="#2a2a2a" stroke="#141414" stroke-width="0.9" stroke-linejoin="miter"/>
<line x1="649.72" y1="269.07" x2="649.72" y2="272.87" stroke="#141414" stroke-width="1.5"/>
<line x1="640.12" y1="274.07" x2="634.62" y2="272.07" stroke="#141414" stroke-width="1.3"/>
<polygon points="663.51,257.82 657.51,264.22 662.91,263.42 665.01,259.02" fill="#2a2a2a" stroke="#141414" stroke-width="0.9" stroke-linejoin="miter"/>
<line x1="667.11" y1="259.02" x2="667.11" y2="262.82" stroke="#141414" stroke-width="1.5"/>
<line x1="657.51" y1="264.02" x2="652.01" y2="262.02" stroke="#141414" stroke-width="1.3"/>
<polygon points="680.9,247.77 674.9,254.17 680.3,253.37 682.4,248.97" fill="#2a2a2a" stroke="#141414" stroke-width="0.9" stroke-linejoin="miter"/>
<line x1="684.5" y1="248.97" x2="684.5" y2="252.77" stroke="#141414" stroke-width="1.5"/>
<line x1="674.9" y1="253.97" x2="669.4" y2="251.97" stroke="#141414" stroke-width="1.3"/>
<polygon points="514.4,372.68 508.4,379.08 513.8,378.28 515.9,373.88" fill="#2a2a2a" stroke="#141414" stroke-width="0.9" stroke-linejoin="miter"/>
<line x1="518" y1="373.88" x2="518" y2="377.68" stroke="#141414" stroke-width="1.5"/>
<line x1="508.4" y1="378.88" x2="502.9" y2="376.88" stroke="#141414" stroke-width="1.3"/>
<polygon points="531.79,362.62 525.79,369.02 531.19,368.22 533.29,363.82" fill="#2a2a2a" stroke="#141414" stroke-width="0.9" stroke-linejoin="miter"/>
<line x1="535.39" y1="363.82" x2="535.39" y2="367.62" stroke="#141414" stroke-width="1.5"/>
<line x1="525.79" y1="368.82" x2="520.29" y2="366.82" stroke="#141414" stroke-width="1.3"/>
<polygon points="549.18,352.57 543.18,358.97 548.58,358.17 550.68,353.77" fill="#2a2a2a" stroke="#141414" stroke-width="0.9" stroke-linejoin="miter"/>
<line x1="552.78" y1="353.77" x2="552.78" y2="357.57" stroke="#141414" stroke-width="1.5"/>
<line x1="543.18" y1="358.77" x2="537.68" y2="356.77" stroke="#141414" stroke-width="1.3"/>
<polygon points="566.57,342.52 560.57,348.92 565.97,348.12 568.07,343.72" fill="#2a2a2a" stroke="#141414" stroke-width="0.9" stroke-linejoin="miter"/>
<line x1="570.17" y1="343.72" x2="570.17" y2="347.52" stroke="#141414" stroke-width="1.5"/>
<line x1="560.57" y1="348.72" x2="555.07" y2="346.72" stroke="#141414" stroke-width="1.3"/>
<polygon points="583.96,332.47 577.96,338.87 583.36,338.07 585.46,333.67" fill="#2a2a2a" stroke="#141414" stroke-width="0.9" stroke-linejoin="miter"/>
<line x1="587.56" y1="333.67" x2="587.56" y2="337.47" stroke="#141414" stroke-width="1.5"/>
<line x1="577.96" y1="338.67" x2="572.46" y2="336.67" stroke="#141414" stroke-width="1.3"/>
<polygon points="601.35,322.41 595.35,328.81 600.75,328.01 602.85,323.61" fill="#2a2a2a" stroke="#141414" stroke-width="0.9" stroke-linejoin="miter"/>
<line x1="604.95" y1="323.61" x2="604.95" y2="327.41" stroke="#141414" stroke-width="1.5"/>
<line x1="595.35" y1="328.61" x2="589.85" y2="326.61" stroke="#141414" stroke-width="1.3"/>
<polygon points="618.74,312.36 612.74,318.76 618.14,317.96 620.24,313.56" fill="#2a2a2a" stroke="#141414" stroke-width="0.9" stroke-linejoin="miter"/>
<line x1="622.34" y1="313.56" x2="622.34" y2="317.36" stroke="#141414" stroke-width="1.5"/>
<line x1="612.74" y1="318.56" x2="607.24" y2="316.56" stroke="#141414" stroke-width="1.3"/>
<polygon points="636.13,302.31 630.13,308.71 635.53,307.91 637.63,303.51" fill="#2a2a2a" stroke="#141414" stroke-width="0.9" stroke-linejoin="miter"/>
<line x1="639.73" y1="303.51" x2="639.73" y2="307.31" stroke="#141414" stroke-width="1.5"/>
<line x1="630.13" y1="308.51" x2="624.63" y2="306.51" stroke="#141414" stroke-width="1.3"/>
<polygon points="653.53,292.26 647.53,298.66 652.93,297.86 655.03,293.46" fill="#2a2a2a" stroke="#141414" stroke-width="0.9" stroke-linejoin="miter"/>
<line x1="657.13" y1="293.46" x2="657.13" y2="297.26" stroke="#141414" stroke-width="1.5"/>
<line x1="647.53" y1="298.46" x2="642.03" y2="296.46" stroke="#141414" stroke-width="1.3"/>
<polygon points="670.92,282.21 664.92,288.61 670.32,287.81 672.42,283.41" fill="#2a2a2a" stroke="#141414" stroke-width="0.9" stroke-linejoin="miter"/>
<line x1="674.52" y1="283.41" x2="674.52" y2="287.21" stroke="#141414" stroke-width="1.5"/>
<line x1="664.92" y1="288.41" x2="659.42" y2="286.41" stroke="#141414" stroke-width="1.3"/>
<polygon points="688.31,272.15 682.31,278.55 687.71,277.75 689.81,273.35" fill="#2a2a2a" stroke="#141414" stroke-width="0.9" stroke-linejoin="miter"/>
<line x1="691.91" y1="273.35" x2="691.91" y2="277.15" stroke="#141414" stroke-width="1.5"/>
<line x1="682.31" y1="278.35" x2="676.81" y2="276.35" stroke="#141414" stroke-width="1.3"/>
<polygon points="705.7,262.1 699.7,268.5 705.1,267.7 707.2,263.3" fill="#2a2a2a" stroke="#141414" stroke-width="0.9" stroke-linejoin="miter"/>
<line x1="709.3" y1="263.3" x2="709.3" y2="267.1" stroke="#141414" stroke-width="1.5"/>
<line x1="699.7" y1="268.3" x2="694.2" y2="266.3" stroke="#141414" stroke-width="1.3"/>
<line x1="468.5" y1="356.2" x2="668.5" y2="240.6" stroke="#141414" stroke-width="2.5"/>
<line x1="480.9" y1="363.37" x2="680.9" y2="247.77" stroke="#141414" stroke-width="2.5"/>
<line x1="493.3" y1="370.53" x2="693.3" y2="254.93" stroke="#141414" stroke-width="2.5"/>
<line x1="505.7" y1="377.7" x2="705.7" y2="262.1" stroke="#141414" stroke-width="2.5"/>
<line x1="518.1" y1="384.87" x2="718.1" y2="269.27" stroke="#141414" stroke-width="2.5"/>
<path d="M662.9,116.6 C645,118 634,132 627,152 C620,172 616,186 606.5,205" fill="none" stroke="#222" stroke-width="1.1"/>
<polygon points="602.37,213.39 602.76,210.81 603.78,206.87 604.63,204.95 605.77,203.94 607.94,204.96 607.89,206.48 606.95,208.36 604.57,211.66 602.83,213.61" fill="#111" stroke="none" stroke-width="1" stroke-linejoin="miter"/>
<path d="M750.3,179.6 C735,181 726,194 719,211 C712,228 707,241 698.6,254.5" fill="none" stroke="#222" stroke-width="1.1"/>
<polygon points="692.6,261.64 693.57,259.22 695.47,255.62 696.74,253.95 698.08,253.22 699.96,254.72 699.56,256.19 698.21,257.8 695.14,260.46 693,261.96" fill="#111" stroke="none" stroke-width="1" stroke-linejoin="miter"/>
<path d="M798,217 C780,218 768,231 757,243.5 C750,251 739,261.5 728.3,271.5" fill="none" stroke="#222" stroke-width="1.1"/>
<polygon points="719.66,276.79 721.36,274.8 724.31,272 726.04,270.82 727.54,270.56 728.85,272.57 728,273.84 726.21,274.94 722.44,276.48 719.94,277.21" fill="#111" stroke="none" stroke-width="1" stroke-linejoin="miter"/>
<path d="M853.7,238.7 C832,240 817,253 805,268 C793,283 780,302 762.5,321.8" fill="none" stroke="#222" stroke-width="1.1"/>
<polygon points="756.12,328.03 757.27,325.69 759.44,322.25 760.83,320.67 762.23,320.06 763.98,321.69 763.47,323.12 762.01,324.63 758.73,327.05 756.48,328.37" fill="#111" stroke="none" stroke-width="1" stroke-linejoin="miter"/>
<text x="0" y="0" transform="translate(665.4 130.4) scale(0.84 1)" font-size="31.5" stroke="#111" stroke-width="0.2">7</text>
<text x="0" y="0" transform="translate(754.4 185.2) scale(0.84 1)" font-size="31.5" stroke="#111" stroke-width="0.2">3</text>
<text x="0" y="0" transform="translate(801.8 225.3) scale(0.84 1)" font-size="31.5" stroke="#111" stroke-width="0.2">9</text>
<text x="0" y="0" transform="translate(861 248.9) scale(0.84 1)" font-size="31.5" stroke="#111" stroke-width="0.2">4</text>
</svg>
<svg id="frame" width="887" height="498" viewBox="0 0 887 498" style="filter:none">
<rect x="0" y="0" width="1.85" height="498" fill="#000"/>
<rect x="0" y="0.85" width="887" height="1.05" fill="#000"/>
<rect x="884.4" y="0" width="2.6" height="498" fill="#000"/>
<rect x="0" y="495.9" width="887" height="2.1" fill="#000"/>
</svg>
</body>
</html>
